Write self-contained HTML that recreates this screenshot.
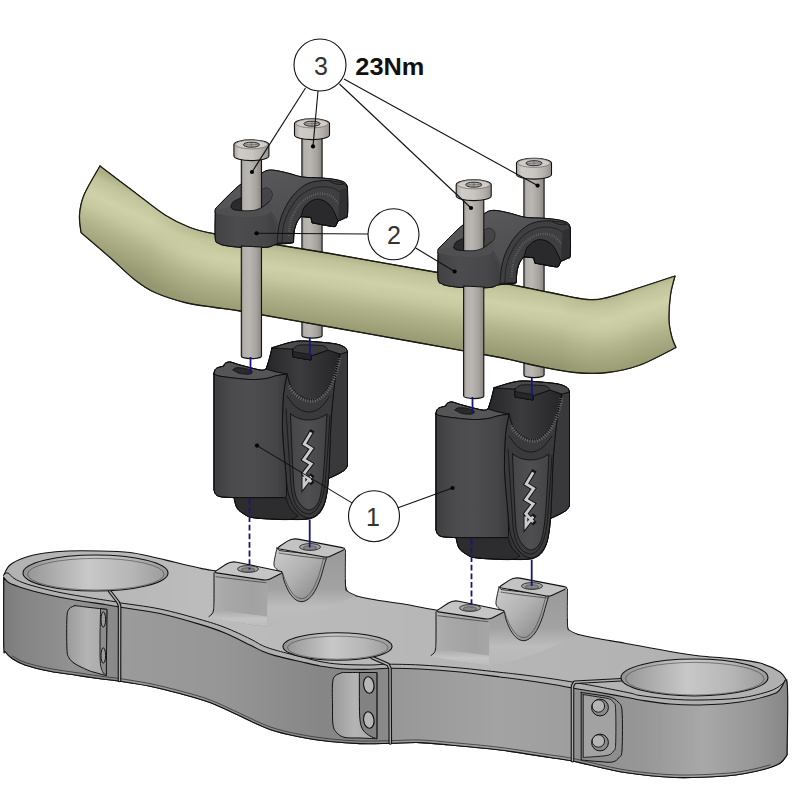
<!DOCTYPE html>
<html><head><meta charset="utf-8"><title>Riser kit assembly</title>
<style>html,body{margin:0;padding:0;background:#fff}svg{display:block}text{font-family:"Liberation Sans",sans-serif}</style>
</head><body>
<svg width="800" height="800" viewBox="0 0 800 800">
<defs>
<linearGradient id="gTop" x1="0" y1="0" x2="1" y2="0"><stop offset="0" stop-color="#b2b2b2"/><stop offset="0.25" stop-color="#bcbcbc"/><stop offset="0.6" stop-color="#b6b6b6"/><stop offset="1" stop-color="#b0b0b0"/></linearGradient>
<linearGradient id="gPedF" x1="0" y1="0" x2="1" y2="0"><stop offset="0" stop-color="#b2b2b2"/><stop offset="0.3" stop-color="#a8a8a8"/><stop offset="0.75" stop-color="#a2a2a2"/><stop offset="1" stop-color="#a6a6a6"/></linearGradient>
<linearGradient id="gPedFb" x1="0" y1="0" x2="0" y2="1"><stop offset="0" stop-color="#a4a4a4"/><stop offset="0.72" stop-color="#a4a4a4"/><stop offset="0.9" stop-color="#c2c2c2"/><stop offset="1" stop-color="#b8b8b8"/></linearGradient>
<linearGradient id="gFil" x1="0" y1="0" x2="0" y2="1"><stop offset="0" stop-color="#a6a6a6"/><stop offset="0.55" stop-color="#c4c4c4"/><stop offset="1" stop-color="#bababa"/></linearGradient>
<linearGradient id="gSad" x1="0" y1="0" x2="1" y2="1"><stop offset="0" stop-color="#cdcdcd"/><stop offset="0.45" stop-color="#b2b2b2"/><stop offset="1" stop-color="#808080"/></linearGradient>
<linearGradient id="gPedR" x1="0" y1="0" x2="0" y2="1"><stop offset="0" stop-color="#9a9a9a"/><stop offset="0.5" stop-color="#a2a2a2"/><stop offset="0.74" stop-color="#bcbcbc"/><stop offset="1" stop-color="#b8b8b8"/></linearGradient>
<linearGradient id="gSide" x1="0" y1="0" x2="800" y2="0" gradientUnits="userSpaceOnUse"><stop offset="0" stop-color="#7a7a7a"/><stop offset="0.03" stop-color="#858585"/><stop offset="0.09" stop-color="#929292"/><stop offset="0.148" stop-color="#898989"/><stop offset="0.152" stop-color="#9b9b9b"/><stop offset="0.28" stop-color="#969696"/><stop offset="0.4" stop-color="#868686"/><stop offset="0.485" stop-color="#8a8a8a"/><stop offset="0.49" stop-color="#979797"/><stop offset="0.62" stop-color="#a3a3a3"/><stop offset="0.715" stop-color="#9e9e9e"/><stop offset="0.72" stop-color="#909090"/><stop offset="0.8" stop-color="#969696"/><stop offset="0.88" stop-color="#a8a8a8"/><stop offset="0.95" stop-color="#959595"/><stop offset="1" stop-color="#808080"/></linearGradient>
<linearGradient id="gHole" x1="0" y1="0" x2="1" y2="0"><stop offset="0" stop-color="#929292"/><stop offset="0.12" stop-color="#a2a2a2"/><stop offset="0.45" stop-color="#c8c8c8"/><stop offset="0.75" stop-color="#b6b6b6"/><stop offset="1" stop-color="#9a9a9a"/></linearGradient>
<linearGradient id="gPock" x1="0" y1="0" x2="1" y2="0"><stop offset="0" stop-color="#9a9a9a"/><stop offset="0.5" stop-color="#b4b4b4"/><stop offset="1" stop-color="#a8a8a8"/></linearGradient>
<linearGradient id="gShaft" x1="0" y1="0" x2="1" y2="0"><stop offset="0" stop-color="#8a8682"/><stop offset="0.12" stop-color="#b4b0ac"/><stop offset="0.4" stop-color="#bab6b2"/><stop offset="0.75" stop-color="#a6a29e"/><stop offset="1" stop-color="#888480"/></linearGradient>
<linearGradient id="gHead" x1="0" y1="0" x2="1" y2="0"><stop offset="0" stop-color="#a9a5a1"/><stop offset="0.15" stop-color="#cfcbc7"/><stop offset="0.5" stop-color="#c9c5c1"/><stop offset="0.8" stop-color="#b3afab"/><stop offset="1" stop-color="#96928e"/></linearGradient>
<linearGradient id="gBar" x1="330" y1="253" x2="318" y2="328" gradientUnits="userSpaceOnUse"><stop offset="0" stop-color="#adaf87"/><stop offset="0.1" stop-color="#c1c39a"/><stop offset="0.3" stop-color="#cfd1a9"/><stop offset="0.45" stop-color="#c6c89f"/><stop offset="0.65" stop-color="#b1b38a"/><stop offset="0.85" stop-color="#a1a37b"/><stop offset="1" stop-color="#959770"/></linearGradient>
<linearGradient id="gBarL" x1="152" y1="196" x2="118" y2="268" gradientUnits="userSpaceOnUse"><stop offset="0" stop-color="#adaf87"/><stop offset="0.1" stop-color="#c1c39a"/><stop offset="0.3" stop-color="#cfd1a9"/><stop offset="0.45" stop-color="#c6c89f"/><stop offset="0.65" stop-color="#b1b38a"/><stop offset="0.85" stop-color="#a1a37b"/><stop offset="1" stop-color="#959770"/></linearGradient>
<linearGradient id="gBarR" x1="636" y1="286" x2="660" y2="362" gradientUnits="userSpaceOnUse"><stop offset="0" stop-color="#adaf87"/><stop offset="0.1" stop-color="#c1c39a"/><stop offset="0.3" stop-color="#cfd1a9"/><stop offset="0.45" stop-color="#c6c89f"/><stop offset="0.65" stop-color="#b1b38a"/><stop offset="0.85" stop-color="#a1a37b"/><stop offset="1" stop-color="#959770"/></linearGradient>
<linearGradient id="mL" x1="80" y1="0" x2="235" y2="0" gradientUnits="userSpaceOnUse"><stop offset="0" stop-color="#fff"/><stop offset="0.45" stop-color="#fff"/><stop offset="1" stop-color="#000"/></linearGradient>
<linearGradient id="mR" x1="560" y1="0" x2="680" y2="0" gradientUnits="userSpaceOnUse"><stop offset="0" stop-color="#000"/><stop offset="0.6" stop-color="#fff"/><stop offset="1" stop-color="#fff"/></linearGradient>
<mask id="maskL" maskUnits="userSpaceOnUse" x="0" y="0" width="800" height="800"><rect width="800" height="800" fill="url(#mL)"/></mask>
<mask id="maskR" maskUnits="userSpaceOnUse" x="0" y="0" width="800" height="800"><rect width="800" height="800" fill="url(#mR)"/></mask>
<linearGradient id="gClTop" x1="0" y1="0" x2="1" y2="1"><stop offset="0" stop-color="#5c5c5e"/><stop offset="0.5" stop-color="#525254"/><stop offset="1" stop-color="#48484a"/></linearGradient>
<linearGradient id="gClFront" x1="0" y1="0" x2="1" y2="0"><stop offset="0" stop-color="#424244"/><stop offset="0.35" stop-color="#4c4c4e"/><stop offset="0.8" stop-color="#474749"/><stop offset="1" stop-color="#3e3e40"/></linearGradient>
<linearGradient id="gRF" x1="0" y1="0" x2="1" y2="0"><stop offset="0" stop-color="#3e3e40"/><stop offset="0.25" stop-color="#4b4b4d"/><stop offset="0.5" stop-color="#4e4e50"/><stop offset="0.85" stop-color="#454547"/><stop offset="1" stop-color="#3a3a3c"/></linearGradient>
<linearGradient id="gRSad" x1="0" y1="0" x2="1" y2="0"><stop offset="0" stop-color="#262628"/><stop offset="0.45" stop-color="#3c3c3e"/><stop offset="1" stop-color="#252527"/></linearGradient>
<linearGradient id="gRTongue" x1="0" y1="0" x2="1" y2="0"><stop offset="0" stop-color="#464648"/><stop offset="0.5" stop-color="#4f4f51"/><stop offset="1" stop-color="#434345"/></linearGradient>
</defs>
<rect width="800" height="800" fill="#ffffff"/>
<path d="M3.8 575.0C4.8 573.3 6.5 567.9 10.0 565.0C13.5 562.1 19.2 559.5 25.0 557.5C30.8 555.5 37.9 554.1 45.0 553.0C52.1 551.9 58.3 551.3 67.5 551.0C76.7 550.7 89.6 550.8 100.0 551.0C110.4 551.2 121.2 551.5 130.0 552.5C138.8 553.5 145.0 555.4 152.5 557.0C160.0 558.6 167.5 560.5 175.0 562.2C182.5 564.0 191.2 566.1 197.5 567.5C203.8 568.9 199.2 568.4 213.0 570.5C226.8 572.6 268.8 578.4 280.0 580.0L345.5 580.0C345.5 581.0 345.2 584.1 345.5 586.0C345.8 587.9 346.2 590.0 347.5 591.5C348.8 593.0 348.4 593.6 353.0 595.0C357.6 596.4 366.3 598.2 375.0 599.8C383.7 601.3 394.8 602.5 405.0 604.2C415.2 606.0 420.2 607.5 436.0 610.0C451.8 612.5 489.3 617.5 500.0 619.0L567.3 619.0C567.3 620.2 567.0 624.1 567.3 626.0C567.6 627.9 568.0 629.3 569.0 630.5C570.0 631.7 568.7 631.8 573.0 633.0C577.3 634.2 586.3 636.3 595.0 638.0C603.7 639.7 612.5 641.0 625.0 643.2C637.5 645.5 657.5 649.4 670.0 651.5C682.5 653.6 690.0 654.8 700.0 656.0C710.0 657.2 720.0 657.3 730.0 658.5C740.0 659.7 751.7 660.8 760.0 663.0C768.3 665.2 775.5 669.0 780.0 672.0C784.5 675.0 785.8 679.5 787.0 681.0L787.0 755.0C786.0 756.2 783.8 760.4 781.0 762.5C778.2 764.6 775.2 765.8 770.0 767.5C764.8 769.2 757.5 771.1 750.0 772.5C742.5 773.9 737.5 775.2 725.0 776.0C712.5 776.8 691.7 778.1 675.0 777.5C658.3 776.9 642.1 775.2 625.0 772.5C607.9 769.8 585.0 763.5 572.5 761.0C560.0 758.5 562.1 759.3 550.0 757.5C537.9 755.7 516.7 752.1 500.0 750.0C483.3 747.9 463.3 746.2 450.0 745.0C436.7 743.8 430.0 742.9 420.0 742.6C410.0 742.3 400.0 743.1 390.0 743.3C380.0 743.5 370.0 743.9 360.0 743.6C350.0 743.3 340.0 742.6 330.0 741.5C320.0 740.4 310.0 739.0 300.0 737.0C290.0 735.0 280.0 733.0 270.0 729.5C260.0 726.0 250.0 720.5 240.0 716.0C230.0 711.5 220.0 706.2 210.0 702.5C200.0 698.8 190.0 696.2 180.0 693.5C170.0 690.8 160.0 688.3 150.0 686.2C140.0 684.2 128.3 682.5 120.0 681.2C111.7 680.0 107.5 679.8 100.0 678.8C92.5 677.7 83.3 676.2 75.0 675.0C66.7 673.8 58.3 672.9 50.0 671.2C41.7 669.6 31.2 667.1 25.0 665.0C18.8 662.9 15.8 660.9 12.5 658.8C9.2 656.6 7.0 654.1 5.5 652.0C4.0 649.9 4.0 647.0 3.8 646.0L3.8 575.0Z" fill="url(#gTop)" stroke="#111" stroke-width="1.1" stroke-linejoin="round" stroke-linecap="round" />
<path d="M327.0 556.0L345.5 550.0C345.5 556.0 345.1 579.1 345.5 586.0C345.9 592.9 346.2 589.9 348.0 591.5C349.8 593.1 354.7 594.8 356.0 595.5C351.7 597.6 339.3 604.1 330.0 608.0C320.7 611.9 310.5 615.8 300.0 619.0C289.5 622.2 272.5 625.7 267.0 627.0L267.0 579.0L282.0 573.0L327.0 556.0Z" fill="url(#gPedR)" stroke="none" stroke-width="1.1" stroke-linejoin="round" stroke-linecap="round" />
<path d="M277.0 548.0C276.7 549.5 275.5 554.2 275.0 557.0C274.5 559.8 273.7 562.9 274.0 565.0C274.3 567.1 275.6 568.2 277.0 569.5C278.4 570.8 281.6 572.4 282.5 573.0C282.8 574.5 283.2 578.6 284.5 582.0C285.8 585.4 287.9 590.4 290.0 593.5C292.1 596.6 294.5 599.2 297.0 600.5C299.5 601.8 302.3 602.1 305.0 601.0C307.7 599.9 310.6 597.3 313.0 594.0C315.4 590.7 317.7 585.7 319.5 581.0C321.3 576.3 322.8 570.2 324.0 566.0C325.2 561.8 326.5 557.7 327.0 556.0L279.0 550.5L277.0 548.0Z" fill="url(#gSad)" stroke="#111" stroke-width="0.9" stroke-linejoin="round" stroke-linecap="round" />
<path d="M283.0 574.0C283.5 575.3 284.6 579.0 286.0 582.0C287.4 585.0 289.6 589.4 291.5 592.0C293.4 594.6 295.3 596.5 297.5 597.5C299.7 598.5 302.2 599.0 304.5 598.0C306.8 597.0 309.3 594.7 311.5 591.5C313.7 588.3 315.8 583.2 317.5 579.0C319.2 574.8 320.4 569.8 321.5 566.0C322.6 562.2 323.6 558.1 324.0 556.5" fill="none" stroke="#3a3a3a" stroke-width="0.6" stroke-linejoin="round" stroke-linecap="round" />
<path d="M345.5 550.0C345.5 556.0 345.1 579.1 345.5 586.0C345.9 592.9 346.2 589.9 348.0 591.5C349.8 593.1 354.7 594.8 356.0 595.5" fill="none" stroke="#111" stroke-width="0.9" stroke-linejoin="round" stroke-linecap="round" />
<path d="M279.5 549.0Q276.5 548.5 279.0 546.8L287.0 541.4Q292.0 538.0 297.9 539.1L342.1 547.6Q347.0 548.5 342.5 550.6L330.2 556.2Q327.5 557.5 324.5 557.0Z" fill="#c3c3c3" stroke="#111" stroke-width="1.1" stroke-linejoin="round" stroke-linecap="round" />
<path d="M279.0 551.5C282.5 552.0 292.2 553.5 300.0 554.5C307.8 555.5 321.7 557.0 326.0 557.5" fill="none" stroke="#333" stroke-width="0.7" stroke-linejoin="round" stroke-linecap="round" transform="translate(0,1.6)"/>
<ellipse cx="310" cy="547" rx="10.5" ry="3.4" fill="#a2a2a2" stroke="#1a1a1a" stroke-width="0.8"/>
<ellipse cx="310" cy="547.8" rx="6.8" ry="2.1" fill="#858585" stroke="#333" stroke-width="0.5"/>
<path d="M214.0 573.0C214.0 577.5 214.1 593.7 214.0 600.0C213.9 606.3 214.0 608.4 213.5 611.0C213.0 613.6 211.9 614.5 211.0 615.5C210.1 616.5 208.5 616.8 208.0 617.0C213.3 618.0 230.2 621.3 240.0 623.0C249.8 624.7 262.5 626.3 267.0 627.0L267.5 579.0C262.9 578.7 248.2 577.8 240.0 577.0C231.8 576.2 222.3 575.2 218.0 574.5C213.7 573.8 214.7 573.2 214.0 573.0Z" fill="url(#gPedF)" stroke="none" stroke-width="1.1" stroke-linejoin="round" stroke-linecap="round" />
<path d="M213.5 609.0C217.9 609.7 231.1 611.8 240.0 613.0C248.9 614.2 262.5 615.9 267.0 616.5L267.0 627.0C262.5 626.3 249.8 624.6 240.0 623.0C230.2 621.4 213.3 618.2 208.0 617.3L213.5 609.0Z" fill="url(#gFil)" stroke="none" stroke-width="1.1" stroke-linejoin="round" stroke-linecap="round" />
<path d="M214.0 573.0C214.0 577.5 214.1 593.8 214.0 600.0C213.9 606.2 213.8 607.7 213.5 610.0C213.2 612.3 212.8 612.9 212.0 614.0C211.2 615.1 209.5 616.1 209.0 616.5" fill="none" stroke="#111" stroke-width="1.0" stroke-linejoin="round" stroke-linecap="round" />
<path d="M216.5 572.9Q213.5 572.5 216.0 570.9L226.0 564.3Q231.0 561.0 236.9 562.2L280.1 571.2Q284.0 572.0 280.4 573.8L270.6 578.7Q267.0 580.5 263.0 579.9Z" fill="#c5c5c5" stroke="#111" stroke-width="1.1" stroke-linejoin="round" stroke-linecap="round" />
<path d="M216.0 575.5C220.0 576.0 231.7 577.5 240.0 578.5C248.3 579.5 261.7 581.0 266.0 581.5" fill="none" stroke="#333" stroke-width="0.7" stroke-linejoin="round" stroke-linecap="round" transform="translate(0,1.2)"/>
<ellipse cx="248" cy="569" rx="10.5" ry="3.4" fill="#a2a2a2" stroke="#1a1a1a" stroke-width="0.8"/>
<ellipse cx="248" cy="569.8" rx="6.8" ry="2.1" fill="#858585" stroke="#333" stroke-width="0.5"/>
<path d="M549.0 595.0L567.5 589.0C567.5 595.0 567.1 618.1 567.5 625.0C567.9 631.9 568.2 628.9 570.0 630.5C571.8 632.1 576.7 633.8 578.0 634.5C573.7 636.6 561.3 643.1 552.0 647.0C542.7 650.9 532.5 654.8 522.0 658.0C511.5 661.2 494.5 664.7 489.0 666.0L489.0 618.0L504.0 612.0L549.0 595.0Z" fill="url(#gPedR)" stroke="none" stroke-width="1.1" stroke-linejoin="round" stroke-linecap="round" />
<path d="M499.0 587.0C498.7 588.5 497.5 593.2 497.0 596.0C496.5 598.8 495.7 601.9 496.0 604.0C496.3 606.1 497.6 607.2 499.0 608.5C500.4 609.8 503.6 611.4 504.5 612.0C504.8 613.5 505.2 617.6 506.5 621.0C507.8 624.4 509.9 629.4 512.0 632.5C514.1 635.6 516.5 638.2 519.0 639.5C521.5 640.8 524.3 641.1 527.0 640.0C529.7 638.9 532.6 636.3 535.0 633.0C537.4 629.7 539.7 624.7 541.5 620.0C543.3 615.3 544.8 609.2 546.0 605.0C547.2 600.8 548.5 596.7 549.0 595.0L501.0 589.5L499.0 587.0Z" fill="url(#gSad)" stroke="#111" stroke-width="0.9" stroke-linejoin="round" stroke-linecap="round" />
<path d="M505.0 613.0C505.5 614.3 506.6 618.0 508.0 621.0C509.4 624.0 511.6 628.4 513.5 631.0C515.4 633.6 517.3 635.5 519.5 636.5C521.7 637.5 524.2 638.0 526.5 637.0C528.8 636.0 531.3 633.7 533.5 630.5C535.7 627.3 537.8 622.2 539.5 618.0C541.2 613.8 542.4 608.8 543.5 605.0C544.6 601.2 545.6 597.1 546.0 595.5" fill="none" stroke="#3a3a3a" stroke-width="0.6" stroke-linejoin="round" stroke-linecap="round" />
<path d="M567.5 589.0C567.5 595.0 567.1 618.1 567.5 625.0C567.9 631.9 568.2 628.9 570.0 630.5C571.8 632.1 576.7 633.8 578.0 634.5" fill="none" stroke="#111" stroke-width="0.9" stroke-linejoin="round" stroke-linecap="round" />
<path d="M501.5 588.0Q498.5 587.5 501.0 585.8L509.0 580.4Q514.0 577.0 519.9 578.1L564.1 586.6Q569.0 587.5 564.5 589.6L552.2 595.2Q549.5 596.5 546.5 596.0Z" fill="#c3c3c3" stroke="#111" stroke-width="1.1" stroke-linejoin="round" stroke-linecap="round" />
<path d="M501.0 590.5C504.5 591.0 514.2 592.5 522.0 593.5C529.8 594.5 543.7 596.0 548.0 596.5" fill="none" stroke="#333" stroke-width="0.7" stroke-linejoin="round" stroke-linecap="round" transform="translate(0,1.6)"/>
<ellipse cx="532" cy="586" rx="10.5" ry="3.4" fill="#a2a2a2" stroke="#1a1a1a" stroke-width="0.8"/>
<ellipse cx="532" cy="586.8" rx="6.8" ry="2.1" fill="#858585" stroke="#333" stroke-width="0.5"/>
<path d="M436.0 612.0C436.0 616.5 436.1 632.7 436.0 639.0C435.9 645.3 436.0 647.4 435.5 650.0C435.0 652.6 433.9 653.5 433.0 654.5C432.1 655.5 430.5 655.8 430.0 656.0C435.3 657.0 452.2 660.3 462.0 662.0C471.8 663.7 484.5 665.3 489.0 666.0L489.5 618.0C484.9 617.7 470.2 616.8 462.0 616.0C453.8 615.2 444.3 614.2 440.0 613.5C435.7 612.8 436.7 612.2 436.0 612.0Z" fill="url(#gPedF)" stroke="none" stroke-width="1.1" stroke-linejoin="round" stroke-linecap="round" />
<path d="M435.5 648.0C439.9 648.7 453.1 650.8 462.0 652.0C470.9 653.2 484.5 654.9 489.0 655.5L489.0 666.0C484.5 665.3 471.8 663.6 462.0 662.0C452.2 660.4 435.3 657.2 430.0 656.3L435.5 648.0Z" fill="url(#gFil)" stroke="none" stroke-width="1.1" stroke-linejoin="round" stroke-linecap="round" />
<path d="M436.0 612.0C436.0 616.5 436.1 632.8 436.0 639.0C435.9 645.2 435.8 646.7 435.5 649.0C435.2 651.3 434.8 651.9 434.0 653.0C433.2 654.1 431.5 655.1 431.0 655.5" fill="none" stroke="#111" stroke-width="1.0" stroke-linejoin="round" stroke-linecap="round" />
<path d="M438.5 611.9Q435.5 611.5 438.0 609.9L448.0 603.3Q453.0 600.0 458.9 601.2L502.1 610.2Q506.0 611.0 502.4 612.8L492.6 617.7Q489.0 619.5 485.0 618.9Z" fill="#c5c5c5" stroke="#111" stroke-width="1.1" stroke-linejoin="round" stroke-linecap="round" />
<path d="M438.0 614.5C442.0 615.0 453.7 616.5 462.0 617.5C470.3 618.5 483.7 620.0 488.0 620.5" fill="none" stroke="#333" stroke-width="0.7" stroke-linejoin="round" stroke-linecap="round" transform="translate(0,1.2)"/>
<ellipse cx="470" cy="608" rx="10.5" ry="3.4" fill="#a2a2a2" stroke="#1a1a1a" stroke-width="0.8"/>
<ellipse cx="470" cy="608.8" rx="6.8" ry="2.1" fill="#858585" stroke="#333" stroke-width="0.5"/>
<path d="M3.8 575.0C4.5 574.7 6.1 572.3 8.0 573.0C9.9 573.7 11.3 577.0 15.0 579.0C18.7 581.0 22.5 582.8 30.0 585.0C37.5 587.2 50.0 590.4 60.0 592.5C70.0 594.6 81.0 596.2 90.0 597.8C99.0 599.2 109.3 600.8 114.0 601.5C118.7 602.2 116.8 602.0 118.0 602.2C119.2 602.5 114.0 601.9 121.0 603.0C128.0 604.1 146.8 606.3 160.0 609.0C173.2 611.7 189.2 616.3 200.0 619.4C210.8 622.5 216.7 624.3 225.0 627.5C233.3 630.7 243.8 635.7 250.0 638.8C256.2 641.8 258.3 643.7 262.5 645.6C266.7 647.5 268.8 648.2 275.0 650.0C281.2 651.8 292.5 654.6 300.0 656.5C307.5 658.4 313.3 660.2 320.0 661.5C326.7 662.8 331.7 663.6 340.0 664.2C348.3 664.8 362.0 665.0 370.0 665.0C378.0 665.0 379.7 664.2 388.0 664.2C396.3 664.2 408.0 664.4 420.0 665.0C432.0 665.6 446.7 666.8 460.0 668.0C473.3 669.2 490.0 671.2 500.0 672.3C510.0 673.4 511.7 673.5 520.0 674.5C528.3 675.5 541.0 677.2 550.0 678.5C559.0 679.8 569.3 681.5 574.0 682.3C578.7 683.0 573.7 682.2 578.0 683.0C582.3 683.8 591.3 685.3 600.0 687.0C608.7 688.7 623.3 691.6 630.0 693.0C636.7 694.4 633.3 694.5 640.0 695.5C646.7 696.5 660.0 698.2 670.0 699.0C680.0 699.8 688.3 700.2 700.0 700.0C711.7 699.8 728.3 699.5 740.0 698.0C751.7 696.5 762.8 693.4 770.0 691.0C777.2 688.6 780.2 685.3 783.0 683.5C785.8 681.7 786.3 680.1 787.0 680.0C787.7 679.9 788.8 680.8 787.0 683.0C785.2 685.2 783.8 689.8 776.0 693.0C768.2 696.2 752.7 700.0 740.0 702.0C727.3 704.0 711.7 704.7 700.0 705.0C688.3 705.3 680.0 704.8 670.0 704.0C660.0 703.2 646.7 701.0 640.0 700.0C633.3 699.0 636.7 699.2 630.0 698.0C623.3 696.8 608.7 694.0 600.0 692.5C591.3 691.0 582.7 689.8 578.0 689.0C573.3 688.2 576.7 688.8 572.0 688.0C567.3 687.2 558.7 685.4 550.0 684.0C541.3 682.6 528.3 680.7 520.0 679.5C511.7 678.3 510.0 678.2 500.0 677.0C490.0 675.8 473.3 673.3 460.0 672.0C446.7 670.7 432.0 669.6 420.0 669.0C408.0 668.4 396.3 668.2 388.0 668.3C379.7 668.3 378.0 669.2 370.0 669.3C362.0 669.4 348.3 669.2 340.0 668.7C331.7 668.2 326.7 667.2 320.0 666.0C313.3 664.8 307.5 663.2 300.0 661.5C292.5 659.8 281.2 657.3 275.0 655.6C268.8 653.9 266.7 653.0 262.5 651.2C258.3 649.5 256.2 648.0 250.0 645.0C243.8 642.0 233.3 636.4 225.0 633.0C216.7 629.6 210.8 627.6 200.0 624.4C189.2 621.1 173.2 616.4 160.0 613.5C146.8 610.6 127.9 608.4 121.0 607.3C114.1 606.2 121.4 607.5 118.8 607.0C116.1 606.5 112.3 605.7 105.0 604.5C97.7 603.3 85.0 601.8 75.0 600.0C65.0 598.2 53.8 596.0 45.0 594.0C36.2 592.0 28.5 589.9 22.5 588.0C16.5 586.1 12.1 584.5 9.0 582.8C5.9 581.0 4.6 578.8 3.8 577.5C2.9 576.2 3.8 575.4 3.8 575.0Z" fill="#b0b0b0" stroke="none" stroke-width="1.1" stroke-linejoin="round" stroke-linecap="round" />
<path d="M3.8 575.0C4.5 574.7 6.1 572.3 8.0 573.0C9.9 573.7 11.3 577.0 15.0 579.0C18.7 581.0 22.5 582.8 30.0 585.0C37.5 587.2 50.0 590.4 60.0 592.5C70.0 594.6 81.0 596.2 90.0 597.8C99.0 599.2 109.3 600.8 114.0 601.5C118.7 602.2 116.8 602.0 118.0 602.2C119.2 602.5 114.0 601.9 121.0 603.0C128.0 604.1 146.8 606.3 160.0 609.0C173.2 611.7 189.2 616.3 200.0 619.4C210.8 622.5 216.7 624.3 225.0 627.5C233.3 630.7 243.8 635.7 250.0 638.8C256.2 641.8 258.3 643.7 262.5 645.6C266.7 647.5 268.8 648.2 275.0 650.0C281.2 651.8 292.5 654.6 300.0 656.5C307.5 658.4 313.3 660.2 320.0 661.5C326.7 662.8 331.7 663.6 340.0 664.2C348.3 664.8 362.0 665.0 370.0 665.0C378.0 665.0 379.7 664.2 388.0 664.2C396.3 664.2 408.0 664.4 420.0 665.0C432.0 665.6 446.7 666.8 460.0 668.0C473.3 669.2 490.0 671.2 500.0 672.3C510.0 673.4 511.7 673.5 520.0 674.5C528.3 675.5 541.0 677.2 550.0 678.5C559.0 679.8 569.3 681.5 574.0 682.3C578.7 683.0 573.7 682.2 578.0 683.0C582.3 683.8 591.3 685.3 600.0 687.0C608.7 688.7 623.3 691.6 630.0 693.0C636.7 694.4 633.3 694.5 640.0 695.5C646.7 696.5 660.0 698.2 670.0 699.0C680.0 699.8 688.3 700.2 700.0 700.0C711.7 699.8 728.3 699.5 740.0 698.0C751.7 696.5 762.8 693.4 770.0 691.0C777.2 688.6 780.2 685.3 783.0 683.5C785.8 681.7 786.3 680.6 787.0 680.0" fill="none" stroke="#111" stroke-width="1.0" stroke-linejoin="round" stroke-linecap="round" />
<path d="M3.8 577.5C4.6 578.4 5.9 581.0 9.0 582.8C12.1 584.5 16.5 586.1 22.5 588.0C28.5 589.9 36.2 592.0 45.0 594.0C53.8 596.0 65.0 598.2 75.0 600.0C85.0 601.8 97.7 603.3 105.0 604.5C112.3 605.7 116.1 606.5 118.8 607.0C121.4 607.5 114.1 606.2 121.0 607.3C127.9 608.4 146.8 610.6 160.0 613.5C173.2 616.4 189.2 621.1 200.0 624.4C210.8 627.6 216.7 629.6 225.0 633.0C233.3 636.4 243.8 642.0 250.0 645.0C256.2 648.0 258.3 649.5 262.5 651.2C266.7 653.0 268.8 653.9 275.0 655.6C281.2 657.3 292.5 659.8 300.0 661.5C307.5 663.2 313.3 664.8 320.0 666.0C326.7 667.2 331.7 668.2 340.0 668.7C348.3 669.2 362.0 669.4 370.0 669.3C378.0 669.2 379.7 668.3 388.0 668.3C396.3 668.2 408.0 668.4 420.0 669.0C432.0 669.6 446.7 670.7 460.0 672.0C473.3 673.3 490.0 675.8 500.0 677.0C510.0 678.2 511.7 678.3 520.0 679.5C528.3 680.7 541.3 682.6 550.0 684.0C558.7 685.4 567.3 687.2 572.0 688.0C576.7 688.8 573.3 688.2 578.0 689.0C582.7 689.8 591.3 691.0 600.0 692.5C608.7 694.0 623.3 696.8 630.0 698.0C636.7 699.2 633.3 699.0 640.0 700.0C646.7 701.0 660.0 703.2 670.0 704.0C680.0 704.8 688.3 705.3 700.0 705.0C711.7 704.7 727.3 704.0 740.0 702.0C752.7 700.0 768.2 696.2 776.0 693.0C783.8 689.8 785.2 672.7 787.0 683.0C788.8 693.3 787.0 743.0 787.0 755.0C786.0 756.2 783.8 760.4 781.0 762.5C778.2 764.6 775.2 765.8 770.0 767.5C764.8 769.2 757.5 771.1 750.0 772.5C742.5 773.9 737.5 775.2 725.0 776.0C712.5 776.8 691.7 778.1 675.0 777.5C658.3 776.9 642.1 775.2 625.0 772.5C607.9 769.8 585.0 763.5 572.5 761.0C560.0 758.5 562.1 759.3 550.0 757.5C537.9 755.7 516.7 752.1 500.0 750.0C483.3 747.9 463.3 746.2 450.0 745.0C436.7 743.8 430.0 742.9 420.0 742.6C410.0 742.3 400.0 743.1 390.0 743.3C380.0 743.5 370.0 743.9 360.0 743.6C350.0 743.3 340.0 742.6 330.0 741.5C320.0 740.4 310.0 739.0 300.0 737.0C290.0 735.0 280.0 733.0 270.0 729.5C260.0 726.0 250.0 720.5 240.0 716.0C230.0 711.5 220.0 706.2 210.0 702.5C200.0 698.8 190.0 696.2 180.0 693.5C170.0 690.8 160.0 688.3 150.0 686.2C140.0 684.2 128.3 682.5 120.0 681.2C111.7 680.0 107.5 679.8 100.0 678.8C92.5 677.7 83.3 676.2 75.0 675.0C66.7 673.8 58.3 672.9 50.0 671.2C41.7 669.6 31.2 667.1 25.0 665.0C18.8 662.9 15.8 660.9 12.5 658.8C9.2 656.6 7.0 654.1 5.5 652.0C4.0 649.9 4.0 658.4 3.8 646.0C3.5 633.6 3.8 588.9 3.8 577.5Z" fill="url(#gSide)" stroke="#111" stroke-width="1.1" stroke-linejoin="round" stroke-linecap="round" />
<path d="M12.5 656.1C14.6 657.2 18.8 660.3 25.0 662.4C31.2 664.5 41.7 667.0 50.0 668.6C58.3 670.3 66.7 671.1 75.0 672.4C83.3 673.6 92.5 675.1 100.0 676.1C107.5 677.2 111.7 677.4 120.0 678.6C128.3 679.9 140.0 681.6 150.0 683.6C160.0 685.7 170.0 688.2 180.0 690.9C190.0 693.6 200.0 696.1 210.0 699.9C220.0 703.6 230.0 708.9 240.0 713.4C250.0 717.9 260.0 723.4 270.0 726.9C280.0 730.4 290.0 732.4 300.0 734.4C310.0 736.4 320.0 737.8 330.0 738.9C340.0 740.0 350.0 740.7 360.0 741.0C370.0 741.3 380.0 740.9 390.0 740.7C400.0 740.5 410.0 739.7 420.0 740.0C430.0 740.3 436.7 741.2 450.0 742.4C463.3 743.6 483.3 745.3 500.0 747.4C516.7 749.5 537.9 753.1 550.0 754.9C562.1 756.7 560.0 755.9 572.5 758.4C585.0 760.9 607.9 767.1 625.0 769.9C642.1 772.6 658.3 774.3 675.0 774.9C691.7 775.5 712.5 774.2 725.0 773.4C737.5 772.6 742.5 771.3 750.0 769.9C757.5 768.5 766.7 765.7 770.0 764.9" fill="none" stroke="#333" stroke-width="0.8" stroke-linejoin="round" stroke-linecap="round" />
<path d="M109.5 591 L118 602 L119.6 606 L119.5 680.5" fill="none" stroke="#111" stroke-width="3.6" stroke-linejoin="round" stroke-linecap="round" />
<path d="M109.5 591 L118 602 L119.6 606 L119.5 680.5" fill="none" stroke="#ababab" stroke-width="1.4" stroke-linejoin="round" stroke-linecap="round" />
<path d="M372 657.5 L388 664.5 L390 668.5 L390.3 743" fill="none" stroke="#111" stroke-width="3.6" stroke-linejoin="round" stroke-linecap="round" />
<path d="M372 657.5 L388 664.5 L390 668.5 L390.3 743" fill="none" stroke="#ababab" stroke-width="1.4" stroke-linejoin="round" stroke-linecap="round" />
<path d="M621.5 679.8 L574.5 682.3 L572.5 686 L572.5 760.8" fill="none" stroke="#111" stroke-width="3.6" stroke-linejoin="round" stroke-linecap="round" />
<path d="M621.5 679.8 L574.5 682.3 L572.5 686 L572.5 760.8" fill="none" stroke="#ababab" stroke-width="1.4" stroke-linejoin="round" stroke-linecap="round" />
<ellipse cx="95.5" cy="573" rx="72.5" ry="18" fill="url(#gHole)" stroke="#111" stroke-width="1.1"/>
<ellipse cx="95.8" cy="574.2" rx="68.3" ry="15.8" fill="none" stroke="#444" stroke-width="0.6"/>
<ellipse cx="337.5" cy="646.5" rx="54.5" ry="13.7" fill="url(#gHole)" stroke="#111" stroke-width="1.1"/>
<ellipse cx="337.8" cy="647.7" rx="50.3" ry="11.5" fill="none" stroke="#444" stroke-width="0.6"/>
<ellipse cx="694.5" cy="677.5" rx="73.5" ry="18.5" fill="url(#gHole)" stroke="#111" stroke-width="1.1"/>
<ellipse cx="694.8" cy="678.7" rx="69.3" ry="16.3" fill="none" stroke="#444" stroke-width="0.6"/>
<path d="M75.0 605.6C77.5 605.9 84.7 606.9 90.0 607.5C95.3 608.1 104.1 609.1 106.9 609.4L106.3 675.6C104.4 675.1 98.1 673.4 95.0 672.5C91.9 671.6 90.8 671.5 87.5 670.0C84.2 668.5 78.1 665.8 75.0 663.8C71.9 661.7 70.1 660.1 68.8 657.5C67.4 654.9 67.2 654.6 66.9 648.0C66.6 641.4 66.6 624.5 66.9 618.0C67.2 611.5 67.7 611.1 69.0 609.0C70.3 606.9 74.0 606.2 75.0 605.6Z" fill="url(#gPock)" stroke="#111" stroke-width="1.0" stroke-linejoin="round" stroke-linecap="round" />
<path d="M100.6 608.7L106.9 609.4L106.3 675.6C105.7 674.9 103.5 673.8 102.5 671.5C101.5 669.2 100.7 667.2 100.3 662.0C99.9 656.8 100.0 648.9 100.0 640.0C100.0 631.1 100.5 613.9 100.6 608.7Z" fill="#8c8c8c" stroke="#111" stroke-width="0.9" stroke-linejoin="round" stroke-linecap="round" />
<ellipse cx="103.3" cy="619.5" rx="2.3" ry="7.6" fill="#9c9c9c" stroke="#111" stroke-width="1"/>
<ellipse cx="103.3" cy="655.5" rx="2.3" ry="7.6" fill="#9c9c9c" stroke="#111" stroke-width="1"/>
<path d="M342.5 672.5C345.4 672.5 354.3 672.5 360.0 672.5C365.7 672.5 374.1 672.5 376.9 672.5L376.9 738.8C374.1 738.7 365.3 738.2 360.0 738.0C354.7 737.8 348.8 738.3 345.0 737.5C341.2 736.7 339.0 735.1 337.0 733.0C335.0 730.9 333.8 729.7 333.0 725.0C332.2 720.3 332.6 711.8 332.5 705.0C332.4 698.2 332.1 688.8 332.5 684.0C332.9 679.2 333.3 677.9 335.0 676.0C336.7 674.1 341.2 673.1 342.5 672.5Z" fill="url(#gPock)" stroke="#111" stroke-width="1.0" stroke-linejoin="round" stroke-linecap="round" />
<path d="M359.4 672.5L376.9 672.5L376.9 738.8C375.8 738.3 372.3 737.5 370.0 736.0C367.7 734.5 364.7 732.7 363.0 730.0C361.3 727.3 360.6 725.0 360.0 720.0C359.4 715.0 359.5 707.9 359.4 700.0C359.3 692.1 359.4 677.1 359.4 672.5Z" fill="#828282" stroke="#111" stroke-width="1.0" stroke-linejoin="round" stroke-linecap="round" />
<ellipse cx="368.8" cy="685" rx="5.2" ry="8.3" fill="#b6b6b6" stroke="#111" stroke-width="1.2" transform="rotate(-8 368.8 685)"/>
<ellipse cx="368.8" cy="720" rx="5.2" ry="8.3" fill="#b6b6b6" stroke="#111" stroke-width="1.2" transform="rotate(-8 368.8 720)"/>
<path d="M581.2 692.5C583.5 692.8 590.2 693.8 595.0 694.5C599.8 695.2 606.2 695.8 610.0 697.0C613.8 698.2 616.0 699.7 618.0 702.0C620.0 704.3 621.3 703.0 622.0 711.0C622.7 719.0 622.5 742.2 622.0 750.0C621.5 757.8 620.6 755.5 619.0 757.5C617.4 759.5 616.0 761.3 612.5 762.0C609.0 762.7 603.2 761.8 598.0 761.5C592.8 761.2 584.0 760.2 581.2 760.0L581.2 692.5Z" fill="#8e8e8e" stroke="#111" stroke-width="1.0" stroke-linejoin="round" stroke-linecap="round" />
<path d="M583.2 694.6C585.3 694.9 591.7 695.9 596.0 696.6C600.3 697.3 605.8 697.8 608.8 698.8C611.7 699.7 612.4 700.8 613.5 702.5C614.6 704.2 615.2 701.7 615.6 708.8C616.0 715.8 616.0 738.0 615.6 745.0C615.2 752.0 614.6 749.3 613.5 751.0C612.4 752.7 611.5 754.1 608.8 755.0C606.0 755.9 601.3 756.1 597.0 756.5C592.7 756.9 585.5 757.3 583.2 757.5L583.2 694.6Z" fill="#a2a2a2" stroke="#111" stroke-width="0.9" stroke-linejoin="round" stroke-linecap="round" />
<circle cx="600" cy="707.5" r="8.4" fill="#8a8a8a" stroke="#111" stroke-width="1"/>
<circle cx="598.4" cy="706.0" r="6.2" fill="#b4b4b4" stroke="#111" stroke-width="0.9"/>
<circle cx="600" cy="742.5" r="8.4" fill="#8a8a8a" stroke="#111" stroke-width="1"/>
<circle cx="598.4" cy="741.0" r="6.2" fill="#b4b4b4" stroke="#111" stroke-width="0.9"/>
<path d="M301.9 135.0 L301.9 335.5 A10.1 2.6 0 0 0 322.1 335.5 L322.1 135.0 Z" fill="url(#gShaft)" stroke="#111" stroke-width="1.1" stroke-linejoin="round" stroke-linecap="round" />
<path d="M294.5 123.5 L294.5 135.0 A17.5 4.6 0 0 0 329.5 135.0 L329.5 123.5 A17.5 4.6 0 0 0 294.5 123.5 Z" fill="url(#gHead)" stroke="#111" stroke-width="1.1" stroke-linejoin="round" stroke-linecap="round" />
<ellipse cx="312.0" cy="123.5" rx="16.3" ry="4.4" fill="#d0ccc9" stroke="#6a6662" stroke-width="0.7"/>
<ellipse cx="312.0" cy="123.7" rx="8" ry="2.5" fill="#b0aca8" stroke="#1a1a1a" stroke-width="0.9"/>
<path d="M305.0 123.9 L319.0 123.5 M312.0 121.5 L312.0 125.8" fill="none" stroke="#444" stroke-width="0.5" stroke-linejoin="round" stroke-linecap="round" />
<path d="M523.9 174.5 L523.9 375.0 A10.1 2.6 0 0 0 544.1 375.0 L544.1 174.5 Z" fill="url(#gShaft)" stroke="#111" stroke-width="1.1" stroke-linejoin="round" stroke-linecap="round" />
<path d="M516.5 163.0 L516.5 174.5 A17.5 4.6 0 0 0 551.5 174.5 L551.5 163.0 A17.5 4.6 0 0 0 516.5 163.0 Z" fill="url(#gHead)" stroke="#111" stroke-width="1.1" stroke-linejoin="round" stroke-linecap="round" />
<ellipse cx="534.0" cy="163.0" rx="16.3" ry="4.4" fill="#d0ccc9" stroke="#6a6662" stroke-width="0.7"/>
<ellipse cx="534.0" cy="163.2" rx="8" ry="2.5" fill="#b0aca8" stroke="#1a1a1a" stroke-width="0.9"/>
<path d="M527.0 163.4 L541.0 163.0 M534.0 161.0 L534.0 165.3" fill="none" stroke="#444" stroke-width="0.5" stroke-linejoin="round" stroke-linecap="round" />
<path d="M100.0 166.0C105.8 170.4 124.2 184.3 135.0 192.5C145.8 200.7 155.8 209.2 165.0 215.0C174.2 220.8 181.7 224.3 190.0 227.5C198.3 230.7 203.3 231.6 215.0 234.0C226.7 236.4 240.8 238.8 260.0 242.0C279.2 245.2 300.8 248.5 330.0 253.5C359.2 258.5 406.7 267.2 435.0 272.0C463.3 276.8 480.8 279.1 500.0 282.5C519.2 285.9 535.4 289.7 550.0 292.5C564.6 295.3 577.9 298.7 587.5 299.5C597.1 300.3 598.8 299.5 607.5 297.5C616.2 295.5 628.8 291.1 640.0 287.5C651.2 283.9 669.2 277.9 675.0 276.0C674.2 279.2 671.5 287.7 670.5 295.0C669.5 302.3 668.8 312.9 669.0 320.0C669.2 327.1 670.8 332.9 672.0 337.5C673.2 342.1 675.3 345.8 676.0 347.5C670.0 350.4 651.4 360.8 640.0 365.0C628.6 369.2 618.3 371.2 607.5 372.5C596.7 373.8 586.7 373.6 575.0 372.5C563.3 371.4 550.0 368.5 537.5 366.0C525.0 363.5 519.6 361.3 500.0 357.5C480.4 353.7 448.3 348.1 420.0 343.0C391.7 337.9 360.0 332.3 330.0 327.0C300.0 321.7 259.2 314.2 240.0 311.0C220.8 307.8 224.2 308.9 215.0 307.5C205.8 306.1 195.0 305.0 185.0 302.5C175.0 300.0 163.3 296.2 155.0 292.5C146.7 288.8 142.5 285.8 135.0 280.0C127.5 274.2 119.0 265.4 110.0 257.5C101.0 249.6 85.8 236.7 81.0 232.5C80.8 229.6 79.0 221.2 79.5 215.0C80.0 208.8 80.6 203.2 84.0 195.0C87.4 186.8 97.3 170.8 100.0 166.0Z" fill="url(#gBar)" stroke="#1c1c14" stroke-width="1.0" stroke-linejoin="round" stroke-linecap="round" />
<path d="M100.0 166.0C105.8 170.4 124.2 184.3 135.0 192.5C145.8 200.7 155.8 209.2 165.0 215.0C174.2 220.8 181.7 224.3 190.0 227.5C198.3 230.7 203.3 231.6 215.0 234.0C226.7 236.4 240.8 238.8 260.0 242.0C279.2 245.2 300.8 248.5 330.0 253.5C359.2 258.5 406.7 267.2 435.0 272.0C463.3 276.8 480.8 279.1 500.0 282.5C519.2 285.9 535.4 289.7 550.0 292.5C564.6 295.3 577.9 298.7 587.5 299.5C597.1 300.3 598.8 299.5 607.5 297.5C616.2 295.5 628.8 291.1 640.0 287.5C651.2 283.9 669.2 277.9 675.0 276.0C674.2 279.2 671.5 287.7 670.5 295.0C669.5 302.3 668.8 312.9 669.0 320.0C669.2 327.1 670.8 332.9 672.0 337.5C673.2 342.1 675.3 345.8 676.0 347.5C670.0 350.4 651.4 360.8 640.0 365.0C628.6 369.2 618.3 371.2 607.5 372.5C596.7 373.8 586.7 373.6 575.0 372.5C563.3 371.4 550.0 368.5 537.5 366.0C525.0 363.5 519.6 361.3 500.0 357.5C480.4 353.7 448.3 348.1 420.0 343.0C391.7 337.9 360.0 332.3 330.0 327.0C300.0 321.7 259.2 314.2 240.0 311.0C220.8 307.8 224.2 308.9 215.0 307.5C205.8 306.1 195.0 305.0 185.0 302.5C175.0 300.0 163.3 296.2 155.0 292.5C146.7 288.8 142.5 285.8 135.0 280.0C127.5 274.2 119.0 265.4 110.0 257.5C101.0 249.6 85.8 236.7 81.0 232.5C80.8 229.6 79.0 221.2 79.5 215.0C80.0 208.8 80.6 203.2 84.0 195.0C87.4 186.8 97.3 170.8 100.0 166.0Z" fill="url(#gBarL)" stroke="none" stroke-width="0.9" stroke-linejoin="round" stroke-linecap="round" mask="url(#maskL)"/>
<path d="M100.0 166.0C105.8 170.4 124.2 184.3 135.0 192.5C145.8 200.7 155.8 209.2 165.0 215.0C174.2 220.8 181.7 224.3 190.0 227.5C198.3 230.7 203.3 231.6 215.0 234.0C226.7 236.4 240.8 238.8 260.0 242.0C279.2 245.2 300.8 248.5 330.0 253.5C359.2 258.5 406.7 267.2 435.0 272.0C463.3 276.8 480.8 279.1 500.0 282.5C519.2 285.9 535.4 289.7 550.0 292.5C564.6 295.3 577.9 298.7 587.5 299.5C597.1 300.3 598.8 299.5 607.5 297.5C616.2 295.5 628.8 291.1 640.0 287.5C651.2 283.9 669.2 277.9 675.0 276.0C674.2 279.2 671.5 287.7 670.5 295.0C669.5 302.3 668.8 312.9 669.0 320.0C669.2 327.1 670.8 332.9 672.0 337.5C673.2 342.1 675.3 345.8 676.0 347.5C670.0 350.4 651.4 360.8 640.0 365.0C628.6 369.2 618.3 371.2 607.5 372.5C596.7 373.8 586.7 373.6 575.0 372.5C563.3 371.4 550.0 368.5 537.5 366.0C525.0 363.5 519.6 361.3 500.0 357.5C480.4 353.7 448.3 348.1 420.0 343.0C391.7 337.9 360.0 332.3 330.0 327.0C300.0 321.7 259.2 314.2 240.0 311.0C220.8 307.8 224.2 308.9 215.0 307.5C205.8 306.1 195.0 305.0 185.0 302.5C175.0 300.0 163.3 296.2 155.0 292.5C146.7 288.8 142.5 285.8 135.0 280.0C127.5 274.2 119.0 265.4 110.0 257.5C101.0 249.6 85.8 236.7 81.0 232.5C80.8 229.6 79.0 221.2 79.5 215.0C80.0 208.8 80.6 203.2 84.0 195.0C87.4 186.8 97.3 170.8 100.0 166.0Z" fill="url(#gBarR)" stroke="none" stroke-width="0.9" stroke-linejoin="round" stroke-linecap="round" mask="url(#maskR)"/>
<path d="M100.0 166.0C105.8 170.4 124.2 184.3 135.0 192.5C145.8 200.7 155.8 209.2 165.0 215.0C174.2 220.8 181.7 224.3 190.0 227.5C198.3 230.7 203.3 231.6 215.0 234.0C226.7 236.4 240.8 238.8 260.0 242.0C279.2 245.2 300.8 248.5 330.0 253.5C359.2 258.5 406.7 267.2 435.0 272.0C463.3 276.8 480.8 279.1 500.0 282.5C519.2 285.9 535.4 289.7 550.0 292.5C564.6 295.3 577.9 298.7 587.5 299.5C597.1 300.3 598.8 299.5 607.5 297.5C616.2 295.5 628.8 291.1 640.0 287.5C651.2 283.9 669.2 277.9 675.0 276.0C674.2 279.2 671.5 287.7 670.5 295.0C669.5 302.3 668.8 312.9 669.0 320.0C669.2 327.1 670.8 332.9 672.0 337.5C673.2 342.1 675.3 345.8 676.0 347.5C670.0 350.4 651.4 360.8 640.0 365.0C628.6 369.2 618.3 371.2 607.5 372.5C596.7 373.8 586.7 373.6 575.0 372.5C563.3 371.4 550.0 368.5 537.5 366.0C525.0 363.5 519.6 361.3 500.0 357.5C480.4 353.7 448.3 348.1 420.0 343.0C391.7 337.9 360.0 332.3 330.0 327.0C300.0 321.7 259.2 314.2 240.0 311.0C220.8 307.8 224.2 308.9 215.0 307.5C205.8 306.1 195.0 305.0 185.0 302.5C175.0 300.0 163.3 296.2 155.0 292.5C146.7 288.8 142.5 285.8 135.0 280.0C127.5 274.2 119.0 265.4 110.0 257.5C101.0 249.6 85.8 236.7 81.0 232.5C80.8 229.6 79.0 221.2 79.5 215.0C80.0 208.8 80.6 203.2 84.0 195.0C87.4 186.8 97.3 170.8 100.0 166.0Z" fill="none" stroke="#1c1c14" stroke-width="1.3" stroke-linejoin="round" stroke-linecap="round" />
<path d="M215.3 212.0C215.3 211.5 214.9 210.2 215.5 209.0C216.1 207.8 216.1 208.0 219.0 205.0C221.9 202.0 229.4 194.4 233.0 191.0C236.6 187.6 237.8 186.6 240.6 184.4C243.4 182.2 246.6 179.8 250.0 178.0C253.4 176.2 258.2 174.8 261.0 173.5C263.8 172.2 264.8 171.0 267.0 170.5C269.2 170.0 271.0 169.9 274.4 170.3C277.8 170.7 282.8 171.9 287.5 173.0C292.2 174.1 296.9 176.2 302.5 177.0C308.1 177.8 315.4 177.6 321.0 178.0C326.6 178.4 332.1 178.9 336.0 179.7C339.9 180.4 342.8 181.3 344.7 182.5C346.6 183.7 347.0 186.2 347.5 187.0C347.5 191.6 348.0 209.2 347.5 214.4C347.0 219.6 346.3 216.9 344.7 218.0C343.1 219.1 339.1 220.5 338.0 221.0L336.0 225.6C335.4 225.8 336.5 227.0 332.5 226.5C328.5 226.0 315.4 223.4 312.0 222.8L311.0 217.5L301.0 216.5C300.3 217.4 298.1 219.6 297.0 222.0C295.9 224.4 294.8 227.6 294.2 231.0C293.6 234.4 293.6 240.6 293.5 242.5C292.9 242.6 292.9 243.0 290.0 243.3C287.1 243.6 279.9 243.8 276.0 244.5C272.1 245.2 272.5 246.7 266.9 247.2C261.3 247.7 249.5 247.7 242.5 247.4C235.5 247.1 228.9 246.2 225.0 245.5C221.1 244.8 220.6 244.5 219.0 243.4C217.4 242.3 215.9 244.0 215.3 238.8C214.7 233.5 215.3 216.5 215.3 212.0Z" fill="#454547" stroke="#0c0c0c" stroke-width="1.0" stroke-linejoin="round" stroke-linecap="round" />
<path d="M301.0 216.5C301.6 214.9 302.3 209.8 304.4 207.0C306.5 204.2 310.6 200.9 313.8 199.8C316.9 198.7 320.2 199.3 323.0 200.3C325.8 201.3 328.4 203.4 330.6 206.0C332.8 208.6 334.8 213.5 336.0 216.0C337.2 218.5 337.7 220.2 338.0 221.0L336.0 225.6C335.4 225.8 336.5 227.0 332.5 226.5C328.5 226.0 315.4 223.4 312.0 222.8L311.0 217.5L301.0 216.5Z" fill="#2a2a2c" stroke="#0c0c0c" stroke-width="0.8" stroke-linejoin="round" stroke-linecap="round" />
<path d="M215.5 209.0C216.1 208.3 216.1 208.0 219.0 205.0C221.9 202.0 229.4 194.4 233.0 191.0C236.6 187.6 237.8 186.6 240.6 184.4C243.4 182.2 246.6 179.8 250.0 178.0C253.4 176.2 258.2 174.8 261.0 173.5C263.8 172.2 264.8 171.0 267.0 170.5C269.2 170.0 271.0 169.9 274.4 170.3C277.8 170.7 282.8 171.9 287.5 173.0C292.2 174.1 296.9 176.2 302.5 177.0C308.1 177.8 315.4 177.6 321.0 178.0C326.6 178.4 332.1 178.9 336.0 179.7C339.9 180.4 342.8 181.3 344.7 182.5C346.6 183.7 347.0 186.2 347.5 187.0C345.6 186.1 340.4 182.8 336.0 181.8C331.6 180.8 326.0 180.4 321.0 180.8C316.0 181.2 310.7 181.9 306.0 184.4C301.3 186.9 296.7 191.2 293.0 195.6C289.3 200.0 286.1 205.6 283.8 210.6C281.4 215.6 279.8 223.1 279.0 225.6C277.5 223.2 274.5 213.0 270.0 211.0C265.5 209.0 258.5 213.3 252.0 213.6C245.5 213.9 237.0 213.2 231.0 212.6C225.0 212.0 218.6 210.6 216.0 210.0C213.4 209.4 215.6 209.2 215.5 209.0Z" fill="url(#gClTop)" stroke="none" stroke-width="0.9" stroke-linejoin="round" stroke-linecap="round" />
<path d="M277.0 243.0C277.3 240.1 277.9 231.0 279.0 225.6C280.1 220.2 281.4 215.6 283.8 210.6C286.1 205.6 289.3 200.0 293.0 195.6C296.7 191.2 301.3 186.9 306.0 184.4C310.7 181.9 316.0 181.1 321.0 180.6C326.0 180.1 332.1 180.9 336.0 181.5C339.9 182.1 342.6 182.9 344.5 184.0C346.4 185.1 347.0 187.3 347.5 188.0C347.5 192.4 348.0 209.4 347.5 214.4C347.0 219.4 346.3 216.9 344.7 218.0C343.1 219.1 339.1 220.5 338.0 221.0C337.7 220.2 337.2 218.5 336.0 216.0C334.8 213.5 332.8 208.6 330.6 206.0C328.4 203.4 325.8 201.3 323.0 200.3C320.2 199.3 316.9 198.7 313.8 199.8C310.6 200.9 306.5 204.2 304.4 207.0C302.3 209.8 302.2 214.0 301.0 216.5C299.8 219.0 298.1 219.6 297.0 222.0C295.9 224.4 294.8 227.6 294.2 231.0C293.6 234.4 293.6 240.6 293.5 242.5L277.0 243.0Z" fill="#3f3f41" stroke="#0c0c0c" stroke-width="0.8" stroke-linejoin="round" stroke-linecap="round" />
<path d="M282.0 242.0C282.2 239.3 282.4 231.0 283.5 226.0C284.6 221.0 286.2 216.5 288.5 212.0C290.8 207.5 293.8 202.6 297.0 199.0C300.2 195.4 304.0 192.5 308.0 190.5C312.0 188.5 316.7 187.1 321.0 186.8C325.3 186.5 330.5 187.3 334.0 188.5C337.5 189.7 340.7 193.1 342.0 194.0" fill="none" stroke="#101010" stroke-width="0.6" stroke-linejoin="round" stroke-linecap="round" />
<path d="M289.0 236.0C289.2 234.0 289.2 227.8 290.0 224.0C290.8 220.2 292.2 216.5 294.0 213.0C295.8 209.5 298.2 205.8 301.0 203.0C303.8 200.2 307.7 197.6 311.0 196.0C314.3 194.4 317.7 193.5 321.0 193.5C324.3 193.5 328.2 194.4 331.0 196.0C333.8 197.6 336.8 201.8 338.0 203.0" fill="none" stroke="#77777a" stroke-width="2.2" stroke-linejoin="round" stroke-linecap="round" stroke-dasharray="0.8 1.5" opacity="0.75" style="stroke-linecap:butt"/>
<path d="M340.0 190.0L347.5 188.0C347.5 192.4 348.0 209.4 347.5 214.4C347.0 219.4 346.3 216.9 344.7 218.0C343.1 219.1 339.1 220.5 338.0 221.0C338.2 218.3 338.7 210.2 339.0 205.0C339.3 199.8 339.8 192.5 340.0 190.0Z" fill="#303032" stroke="none" stroke-width="0.9" stroke-linejoin="round" stroke-linecap="round" />
<path d="M231.0 207.0C231.3 206.2 231.6 203.4 233.0 202.0C234.4 200.6 236.9 199.7 239.7 198.4C242.5 197.1 246.4 195.4 250.0 194.0C253.6 192.6 258.2 191.0 261.0 190.0C263.8 189.0 265.2 187.7 267.0 188.0C268.8 188.3 270.8 190.4 271.6 192.0C272.4 193.6 272.1 195.8 271.6 197.5C271.1 199.2 270.5 200.3 268.8 202.0C267.0 203.7 263.8 206.4 261.0 207.8C258.2 209.2 256.3 210.2 252.0 210.6C247.7 211.0 238.5 210.6 235.0 210.0C231.5 209.4 231.7 207.5 231.0 207.0Z" fill="#2b2b2d" stroke="#0c0c0c" stroke-width="0.8" stroke-linejoin="round" stroke-linecap="round" />
<path d="M261.0 190.0C262.0 189.7 265.2 187.7 267.0 188.0C268.8 188.3 270.8 190.4 271.6 192.0C272.4 193.6 272.1 195.8 271.6 197.5C271.1 199.2 270.5 200.3 268.8 202.0C267.0 203.7 262.1 208.5 261.0 207.8C259.9 207.1 262.0 201.0 262.0 198.0C262.0 195.0 261.2 191.3 261.0 190.0Z" fill="#454547" stroke="none" stroke-width="0.9" stroke-linejoin="round" stroke-linecap="round" />
<path d="M330.0 181.5C331.0 181.9 333.8 183.5 336.0 184.0C338.2 184.5 341.8 184.4 343.0 184.5" fill="none" stroke="#0c0c0c" stroke-width="0.7" stroke-linejoin="round" stroke-linecap="round" />
<path d="M215.3 213.0C217.9 213.4 224.9 214.9 231.0 215.5C237.1 216.1 245.8 216.8 252.0 216.5C258.2 216.2 264.0 212.4 268.0 214.0C272.0 215.6 274.7 224.0 276.0 226.0L277.0 243.0C275.3 243.7 272.6 246.5 266.9 247.2C261.1 247.9 249.5 247.7 242.5 247.4C235.5 247.1 228.9 246.2 225.0 245.5C221.1 244.8 220.6 244.5 219.0 243.4C217.4 242.3 215.9 243.8 215.3 238.8C214.7 233.7 215.3 217.3 215.3 213.0Z" fill="url(#gClFront)" stroke="none" stroke-width="0.9" stroke-linejoin="round" stroke-linecap="round" />
<path d="M215.3 212.0C215.3 211.5 214.9 210.2 215.5 209.0C216.1 207.8 216.1 208.0 219.0 205.0C221.9 202.0 229.4 194.4 233.0 191.0C236.6 187.6 237.8 186.6 240.6 184.4C243.4 182.2 246.6 179.8 250.0 178.0C253.4 176.2 258.2 174.8 261.0 173.5C263.8 172.2 264.8 171.0 267.0 170.5C269.2 170.0 271.0 169.9 274.4 170.3C277.8 170.7 282.8 171.9 287.5 173.0C292.2 174.1 296.9 176.2 302.5 177.0C308.1 177.8 315.4 177.6 321.0 178.0C326.6 178.4 332.1 178.9 336.0 179.7C339.9 180.4 342.8 181.3 344.7 182.5C346.6 183.7 347.0 186.2 347.5 187.0C347.5 191.6 348.0 209.2 347.5 214.4C347.0 219.6 346.3 216.9 344.7 218.0C343.1 219.1 339.1 220.5 338.0 221.0L336.0 225.6C335.4 225.8 336.5 227.0 332.5 226.5C328.5 226.0 315.4 223.4 312.0 222.8L311.0 217.5L301.0 216.5C300.3 217.4 298.1 219.6 297.0 222.0C295.9 224.4 294.8 227.6 294.2 231.0C293.6 234.4 293.6 240.6 293.5 242.5C292.9 242.6 292.9 243.0 290.0 243.3C287.1 243.6 279.9 243.8 276.0 244.5C272.1 245.2 272.5 246.7 266.9 247.2C261.3 247.7 249.5 247.7 242.5 247.4C235.5 247.1 228.9 246.2 225.0 245.5C221.1 244.8 220.6 244.5 219.0 243.4C217.4 242.3 215.9 244.0 215.3 238.8C214.7 233.5 215.3 216.5 215.3 212.0Z" fill="none" stroke="#0c0c0c" stroke-width="1.0" stroke-linejoin="round" stroke-linecap="round" />
<path d="M241.3 156.0 L241.3 210.0 A10.1 2.6 0 0 0 261.5 210.0 L261.5 156.0 Z" fill="url(#gShaft)" stroke="#111" stroke-width="1.1" stroke-linejoin="round" stroke-linecap="round" />
<path d="M233.9 144.5 L233.9 156.0 A17.5 4.6 0 0 0 268.9 156.0 L268.9 144.5 A17.5 4.6 0 0 0 233.9 144.5 Z" fill="url(#gHead)" stroke="#111" stroke-width="1.1" stroke-linejoin="round" stroke-linecap="round" />
<ellipse cx="251.4" cy="144.5" rx="16.3" ry="4.4" fill="#d0ccc9" stroke="#6a6662" stroke-width="0.7"/>
<ellipse cx="251.4" cy="144.7" rx="8" ry="2.5" fill="#b0aca8" stroke="#1a1a1a" stroke-width="0.9"/>
<path d="M244.4 144.9 L258.4 144.5 M251.4 142.5 L251.4 146.8" fill="none" stroke="#444" stroke-width="0.5" stroke-linejoin="round" stroke-linecap="round" />
<path d="M231.0 207.0C231.7 207.5 231.5 209.4 235.0 210.0C238.5 210.6 247.7 211.0 252.0 210.6C256.3 210.2 258.2 209.2 261.0 207.8C263.8 206.4 267.5 203.0 268.8 202.0C269.3 203.0 272.1 205.9 272.0 208.0C271.9 210.1 268.7 213.4 268.0 214.5C265.3 214.9 258.2 216.8 252.0 217.0C245.8 217.2 237.0 216.6 231.0 216.0C225.0 215.4 218.5 213.9 216.0 213.5C216.0 212.9 215.0 210.8 216.0 210.0C217.0 209.2 219.5 209.0 222.0 208.5C224.5 208.0 229.5 207.2 231.0 207.0Z" fill="#4f4f51" stroke="none" stroke-width="0.9" stroke-linejoin="round" stroke-linecap="round" />
<path d="M231.0 207.0C231.7 207.5 231.5 209.4 235.0 210.0C238.5 210.6 247.7 211.0 252.0 210.6C256.3 210.2 258.2 209.2 261.0 207.8C263.8 206.4 267.5 203.0 268.8 202.0" fill="none" stroke="#0c0c0c" stroke-width="0.8" stroke-linejoin="round" stroke-linecap="round" />
<path d="M241.3 246.0 L241.3 356.0 A10.1 2.6 0 0 0 261.5 356.0 L261.5 247.0 Z" fill="url(#gShaft)" stroke="#111" stroke-width="1.1" stroke-linejoin="round" stroke-linecap="round" />
<path d="M438.1 252.3C438.1 251.8 437.7 250.5 438.3 249.3C438.9 248.1 438.9 248.3 441.8 245.3C444.7 242.3 452.2 234.7 455.8 231.3C459.4 227.9 460.6 226.9 463.4 224.7C466.2 222.5 469.4 220.1 472.8 218.3C476.2 216.5 481.0 215.1 483.8 213.8C486.6 212.6 487.6 211.3 489.8 210.8C492.0 210.3 493.8 210.2 497.2 210.6C500.6 211.0 505.6 212.2 510.3 213.3C515.0 214.4 519.7 216.5 525.3 217.3C530.9 218.1 538.2 217.9 543.8 218.3C549.4 218.8 554.8 219.2 558.8 220.0C562.8 220.8 565.6 221.6 567.5 222.8C569.4 224.0 569.8 226.6 570.3 227.3C570.3 231.9 570.8 249.5 570.3 254.7C569.8 259.9 569.1 257.2 567.5 258.3C565.9 259.4 561.9 260.8 560.8 261.3L558.8 265.9C558.2 266.0 559.3 267.3 555.3 266.8C551.3 266.3 538.2 263.7 534.8 263.1L533.8 257.8L523.8 256.8C523.1 257.7 520.9 259.9 519.8 262.3C518.7 264.7 517.6 267.9 517.0 271.3C516.4 274.7 516.4 280.9 516.3 282.8C515.7 282.9 515.7 283.3 512.8 283.6C509.9 283.9 502.6 284.2 498.8 284.8C495.0 285.4 495.3 287.0 489.7 287.5C484.1 288.0 472.3 288.0 465.3 287.7C458.3 287.4 451.7 286.5 447.8 285.8C443.9 285.1 443.4 284.8 441.8 283.7C440.2 282.6 438.7 284.3 438.1 279.1C437.5 273.8 438.1 256.8 438.1 252.3Z" fill="#454547" stroke="#0c0c0c" stroke-width="1.0" stroke-linejoin="round" stroke-linecap="round" />
<path d="M523.8 256.8C524.4 255.2 525.1 250.1 527.2 247.3C529.3 244.5 533.4 241.2 536.5 240.1C539.6 239.0 543.0 239.6 545.8 240.6C548.6 241.6 551.2 243.7 553.4 246.3C555.6 248.9 557.6 253.8 558.8 256.3C560.0 258.8 560.5 260.5 560.8 261.3L558.8 265.9C558.2 266.0 559.3 267.3 555.3 266.8C551.3 266.3 538.2 263.7 534.8 263.1L533.8 257.8L523.8 256.8Z" fill="#2a2a2c" stroke="#0c0c0c" stroke-width="0.8" stroke-linejoin="round" stroke-linecap="round" />
<path d="M438.3 249.3C438.9 248.6 438.9 248.3 441.8 245.3C444.7 242.3 452.2 234.7 455.8 231.3C459.4 227.9 460.6 226.9 463.4 224.7C466.2 222.5 469.4 220.1 472.8 218.3C476.2 216.5 481.0 215.1 483.8 213.8C486.6 212.6 487.6 211.3 489.8 210.8C492.0 210.3 493.8 210.2 497.2 210.6C500.6 211.0 505.6 212.2 510.3 213.3C515.0 214.4 519.7 216.5 525.3 217.3C530.9 218.1 538.2 217.9 543.8 218.3C549.4 218.8 554.8 219.2 558.8 220.0C562.8 220.8 565.6 221.6 567.5 222.8C569.4 224.0 569.8 226.6 570.3 227.3C568.4 226.4 563.2 223.1 558.8 222.1C554.4 221.1 548.8 220.7 543.8 221.1C538.8 221.5 533.5 222.2 528.8 224.7C524.1 227.2 519.5 231.5 515.8 235.9C512.1 240.3 508.9 245.9 506.6 250.9C504.2 255.9 502.6 263.4 501.8 265.9C500.3 263.5 497.3 253.3 492.8 251.3C488.3 249.3 481.3 253.6 474.8 253.9C468.3 254.2 459.8 253.5 453.8 252.9C447.8 252.3 441.4 250.9 438.8 250.3C436.2 249.7 438.4 249.5 438.3 249.3Z" fill="url(#gClTop)" stroke="none" stroke-width="0.9" stroke-linejoin="round" stroke-linecap="round" />
<path d="M499.8 283.3C500.1 280.4 500.7 271.3 501.8 265.9C502.9 260.5 504.2 255.9 506.6 250.9C508.9 245.9 512.1 240.3 515.8 235.9C519.5 231.5 524.1 227.2 528.8 224.7C533.5 222.2 538.8 221.4 543.8 220.9C548.8 220.4 554.9 221.2 558.8 221.8C562.7 222.4 565.4 223.2 567.3 224.3C569.2 225.4 569.8 227.6 570.3 228.3C570.3 232.7 570.8 249.7 570.3 254.7C569.8 259.7 569.1 257.2 567.5 258.3C565.9 259.4 561.9 260.8 560.8 261.3C560.5 260.5 560.0 258.8 558.8 256.3C557.6 253.8 555.6 248.9 553.4 246.3C551.2 243.7 548.6 241.6 545.8 240.6C543.0 239.6 539.6 239.0 536.5 240.1C533.4 241.2 529.3 244.5 527.2 247.3C525.1 250.1 525.0 254.3 523.8 256.8C522.6 259.3 520.9 259.9 519.8 262.3C518.7 264.7 517.6 267.9 517.0 271.3C516.4 274.7 516.4 280.9 516.3 282.8L499.8 283.3Z" fill="#3f3f41" stroke="#0c0c0c" stroke-width="0.8" stroke-linejoin="round" stroke-linecap="round" />
<path d="M504.8 282.3C505.1 279.6 505.2 271.3 506.3 266.3C507.4 261.3 509.1 256.8 511.3 252.3C513.5 247.8 516.5 242.9 519.8 239.3C523.0 235.7 526.8 232.8 530.8 230.8C534.8 228.8 539.5 227.4 543.8 227.1C548.1 226.8 553.3 227.6 556.8 228.8C560.3 230.0 563.5 233.4 564.8 234.3" fill="none" stroke="#101010" stroke-width="0.6" stroke-linejoin="round" stroke-linecap="round" />
<path d="M511.8 276.3C512.0 274.3 512.0 268.1 512.8 264.3C513.6 260.5 515.0 256.8 516.8 253.3C518.6 249.8 521.0 246.1 523.8 243.3C526.6 240.5 530.5 237.9 533.8 236.3C537.1 234.7 540.5 233.8 543.8 233.8C547.1 233.8 551.0 234.7 553.8 236.3C556.6 237.9 559.6 242.1 560.8 243.3" fill="none" stroke="#77777a" stroke-width="2.2" stroke-linejoin="round" stroke-linecap="round" stroke-dasharray="0.8 1.5" opacity="0.75" style="stroke-linecap:butt"/>
<path d="M562.8 230.3L570.3 228.3C570.3 232.7 570.8 249.7 570.3 254.7C569.8 259.7 569.1 257.2 567.5 258.3C565.9 259.4 561.9 260.8 560.8 261.3C561.0 258.6 561.5 250.5 561.8 245.3C562.1 240.1 562.6 232.8 562.8 230.3Z" fill="#303032" stroke="none" stroke-width="0.9" stroke-linejoin="round" stroke-linecap="round" />
<path d="M453.8 247.3C454.1 246.5 454.4 243.7 455.8 242.3C457.2 240.9 459.7 240.0 462.5 238.7C465.3 237.4 469.2 235.7 472.8 234.3C476.4 232.9 481.0 231.3 483.8 230.3C486.6 229.3 488.0 228.0 489.8 228.3C491.6 228.6 493.6 230.7 494.4 232.3C495.2 233.9 494.9 236.1 494.4 237.8C493.9 239.5 493.3 240.6 491.6 242.3C489.8 244.0 486.6 246.7 483.8 248.1C481.0 249.5 479.1 250.5 474.8 250.9C470.5 251.3 461.3 250.9 457.8 250.3C454.3 249.7 454.5 247.8 453.8 247.3Z" fill="#2b2b2d" stroke="#0c0c0c" stroke-width="0.8" stroke-linejoin="round" stroke-linecap="round" />
<path d="M483.8 230.3C484.8 230.0 488.0 228.0 489.8 228.3C491.6 228.6 493.6 230.7 494.4 232.3C495.2 233.9 494.9 236.1 494.4 237.8C493.9 239.5 493.3 240.6 491.6 242.3C489.8 244.0 484.9 248.8 483.8 248.1C482.7 247.4 484.8 241.3 484.8 238.3C484.8 235.3 484.0 231.6 483.8 230.3Z" fill="#454547" stroke="none" stroke-width="0.9" stroke-linejoin="round" stroke-linecap="round" />
<path d="M552.8 221.8C553.8 222.2 556.6 223.8 558.8 224.3C561.0 224.8 564.6 224.7 565.8 224.8" fill="none" stroke="#0c0c0c" stroke-width="0.7" stroke-linejoin="round" stroke-linecap="round" />
<path d="M438.1 253.3C440.7 253.7 447.7 255.2 453.8 255.8C459.9 256.4 468.6 257.1 474.8 256.8C481.0 256.6 486.8 252.7 490.8 254.3C494.8 255.9 497.5 264.3 498.8 266.3L499.8 283.3C498.1 284.0 495.4 286.8 489.7 287.5C483.9 288.2 472.3 288.0 465.3 287.7C458.3 287.4 451.7 286.5 447.8 285.8C443.9 285.1 443.4 284.8 441.8 283.7C440.2 282.6 438.7 284.1 438.1 279.1C437.5 274.0 438.1 257.6 438.1 253.3Z" fill="url(#gClFront)" stroke="none" stroke-width="0.9" stroke-linejoin="round" stroke-linecap="round" />
<path d="M438.1 252.3C438.1 251.8 437.7 250.5 438.3 249.3C438.9 248.1 438.9 248.3 441.8 245.3C444.7 242.3 452.2 234.7 455.8 231.3C459.4 227.9 460.6 226.9 463.4 224.7C466.2 222.5 469.4 220.1 472.8 218.3C476.2 216.5 481.0 215.1 483.8 213.8C486.6 212.6 487.6 211.3 489.8 210.8C492.0 210.3 493.8 210.2 497.2 210.6C500.6 211.0 505.6 212.2 510.3 213.3C515.0 214.4 519.7 216.5 525.3 217.3C530.9 218.1 538.2 217.9 543.8 218.3C549.4 218.8 554.8 219.2 558.8 220.0C562.8 220.8 565.6 221.6 567.5 222.8C569.4 224.0 569.8 226.6 570.3 227.3C570.3 231.9 570.8 249.5 570.3 254.7C569.8 259.9 569.1 257.2 567.5 258.3C565.9 259.4 561.9 260.8 560.8 261.3L558.8 265.9C558.2 266.0 559.3 267.3 555.3 266.8C551.3 266.3 538.2 263.7 534.8 263.1L533.8 257.8L523.8 256.8C523.1 257.7 520.9 259.9 519.8 262.3C518.7 264.7 517.6 267.9 517.0 271.3C516.4 274.7 516.4 280.9 516.3 282.8C515.7 282.9 515.7 283.3 512.8 283.6C509.9 283.9 502.6 284.2 498.8 284.8C495.0 285.4 495.3 287.0 489.7 287.5C484.1 288.0 472.3 288.0 465.3 287.7C458.3 287.4 451.7 286.5 447.8 285.8C443.9 285.1 443.4 284.8 441.8 283.7C440.2 282.6 438.7 284.3 438.1 279.1C437.5 273.8 438.1 256.8 438.1 252.3Z" fill="none" stroke="#0c0c0c" stroke-width="1.0" stroke-linejoin="round" stroke-linecap="round" />
<path d="M463.6 196.0 L463.6 250.0 A10.1 2.6 0 0 0 483.8 250.0 L483.8 196.0 Z" fill="url(#gShaft)" stroke="#111" stroke-width="1.1" stroke-linejoin="round" stroke-linecap="round" />
<path d="M456.2 184.5 L456.2 196.0 A17.5 4.6 0 0 0 491.2 196.0 L491.2 184.5 A17.5 4.6 0 0 0 456.2 184.5 Z" fill="url(#gHead)" stroke="#111" stroke-width="1.1" stroke-linejoin="round" stroke-linecap="round" />
<ellipse cx="473.7" cy="184.5" rx="16.3" ry="4.4" fill="#d0ccc9" stroke="#6a6662" stroke-width="0.7"/>
<ellipse cx="473.7" cy="184.7" rx="8" ry="2.5" fill="#b0aca8" stroke="#1a1a1a" stroke-width="0.9"/>
<path d="M466.7 184.9 L480.7 184.5 M473.7 182.5 L473.7 186.8" fill="none" stroke="#444" stroke-width="0.5" stroke-linejoin="round" stroke-linecap="round" />
<path d="M453.3 247.0C454.0 247.5 453.8 249.4 457.3 250.0C460.8 250.6 470.0 251.0 474.3 250.6C478.6 250.2 480.5 249.2 483.3 247.8C486.1 246.4 489.8 243.0 491.1 242.0C491.6 243.0 494.4 245.9 494.3 248.0C494.2 250.1 491.0 253.4 490.3 254.5C487.6 254.9 480.5 256.8 474.3 257.0C468.1 257.2 459.3 256.6 453.3 256.0C447.3 255.4 440.8 253.9 438.3 253.5C438.3 252.9 437.3 250.8 438.3 250.0C439.3 249.2 441.8 249.0 444.3 248.5C446.8 248.0 451.8 247.2 453.3 247.0Z" fill="#4f4f51" stroke="none" stroke-width="0.9" stroke-linejoin="round" stroke-linecap="round" />
<path d="M453.3 247.0C454.0 247.5 453.8 249.4 457.3 250.0C460.8 250.6 470.0 251.0 474.3 250.6C478.6 250.2 480.5 249.2 483.3 247.8C486.1 246.4 489.8 243.0 491.1 242.0" fill="none" stroke="#0c0c0c" stroke-width="0.8" stroke-linejoin="round" stroke-linecap="round" />
<path d="M463.6 286.0 L463.6 396.0 A10.1 2.6 0 0 0 483.8 396.0 L483.8 287.0 Z" fill="url(#gShaft)" stroke="#111" stroke-width="1.1" stroke-linejoin="round" stroke-linecap="round" />
<path d="M214.0 374.0C214.1 373.5 214.0 372.0 214.5 371.0C215.0 370.0 215.4 368.8 217.0 368.0C218.6 367.2 222.8 366.3 224.0 366.0C224.2 365.6 224.0 364.2 225.0 363.5C226.0 362.8 227.5 361.8 230.0 362.0C232.5 362.2 235.0 363.7 240.0 365.0C245.0 366.3 255.7 369.3 260.0 370.0C264.3 370.7 265.0 369.2 266.0 369.0C266.5 367.5 268.0 363.5 269.0 360.0C270.0 356.5 271.5 350.0 272.0 348.0C274.7 347.2 283.3 344.2 288.0 343.0C292.7 341.8 295.0 341.2 300.0 341.0C305.0 340.8 312.0 341.5 318.0 342.0C324.0 342.5 331.5 343.1 336.0 344.0C340.5 344.9 343.1 346.2 345.0 347.5C346.9 348.8 347.1 351.2 347.5 352.0L347.5 466.0C346.9 466.8 345.9 469.0 344.0 470.5C342.1 472.0 338.6 473.7 336.0 475.0C333.4 476.3 329.8 477.9 328.5 478.5C328.2 480.8 327.8 487.6 327.0 492.0C326.2 496.4 325.5 501.2 324.0 505.0C322.5 508.8 320.7 512.2 318.0 514.5C315.3 516.8 312.7 518.2 308.0 519.0C303.3 519.8 296.3 519.5 290.0 519.5C283.7 519.5 276.3 519.3 270.0 519.0C263.7 518.7 256.3 518.3 252.0 517.5C247.7 516.7 246.5 515.6 244.0 514.0C241.5 512.4 238.7 510.7 237.0 508.0C235.3 505.3 234.5 499.3 234.0 497.6C231.8 497.5 224.0 497.3 221.0 496.8C218.0 496.3 217.2 495.6 216.0 494.5C214.8 493.4 214.3 490.8 214.0 490.0L214.0 374.0Z" fill="#343436" stroke="#0c0c0c" stroke-width="1.0" stroke-linejoin="round" stroke-linecap="round" />
<path d="M234.0 497.6C234.5 499.3 235.3 505.3 237.0 508.0C238.7 510.7 241.5 512.4 244.0 514.0C246.5 515.6 247.7 516.7 252.0 517.5C256.3 518.3 263.7 518.7 270.0 519.0C276.3 519.3 285.3 520.0 290.0 519.5C294.7 519.0 296.7 516.6 298.0 516.0C296.7 514.7 292.0 511.1 290.0 508.0C288.0 504.9 286.7 499.3 286.0 497.6L234.0 497.6Z" fill="#2d2d2f" stroke="#0c0c0c" stroke-width="0.8" stroke-linejoin="round" stroke-linecap="round" />
<path d="M272.0 348.0C271.5 350.0 270.0 356.5 269.0 360.0C268.0 363.5 266.5 367.5 266.0 369.0C267.7 369.5 272.5 371.2 276.0 372.0C279.5 372.8 285.2 373.7 287.0 374.0C287.8 376.3 289.2 384.0 292.0 388.0C294.8 392.0 300.0 396.2 304.0 398.0C308.0 399.8 312.0 400.7 316.0 399.0C320.0 397.3 324.7 392.8 328.0 388.0C331.3 383.2 334.0 375.7 336.0 370.0C338.0 364.3 339.3 356.7 340.0 354.0L338.0 353.5L328.0 350.0L311.0 356.0L311.0 360.0L293.0 357.0L293.0 349.0L272.0 348.0Z" fill="url(#gRSad)" stroke="#0c0c0c" stroke-width="0.8" stroke-linejoin="round" stroke-linecap="round" />
<path d="M340.0 354.0L347.5 352.0L347.5 466.0C346.9 466.8 345.9 469.0 344.0 470.5C342.1 472.0 338.6 473.7 336.0 475.0C333.4 476.3 329.8 477.9 328.5 478.5C328.7 475.4 329.0 470.6 329.5 460.0C330.0 449.4 330.4 429.7 331.5 415.0C332.6 400.3 334.6 382.2 336.0 372.0C337.4 361.8 339.3 357.0 340.0 354.0Z" fill="#39393b" stroke="#0c0c0c" stroke-width="0.8" stroke-linejoin="round" stroke-linecap="round" />
<path d="M272.0 347.5C274.7 346.8 283.3 344.1 288.0 343.0C292.7 341.9 295.0 341.2 300.0 341.0C305.0 340.8 312.0 341.5 318.0 342.0C324.0 342.5 331.5 343.1 336.0 344.0C340.5 344.9 343.1 346.2 345.0 347.5C346.9 348.8 347.1 351.2 347.5 352.0L340.0 354.0L328.0 350.0L311.0 356.0L311.0 360.0L293.0 357.0L293.0 349.0C291.2 348.9 285.5 348.8 282.0 348.5C278.5 348.2 273.7 347.7 272.0 347.5Z" fill="#4a4a4c" stroke="#0c0c0c" stroke-width="0.8" stroke-linejoin="round" stroke-linecap="round" />
<path d="M293.0 349.0C293.5 348.6 294.8 347.2 296.0 346.5C297.2 345.8 297.3 345.2 300.0 345.0C302.7 344.8 308.0 344.8 312.0 345.0C316.0 345.2 321.3 345.2 324.0 346.0C326.7 346.8 327.3 349.3 328.0 350.0L311.0 356.0L311.0 360.0L293.0 357.0L293.0 349.0Z" fill="#39393b" stroke="#0c0c0c" stroke-width="0.8" stroke-linejoin="round" stroke-linecap="round" />
<path d="M293.0 351.5L311.0 354.5L311.0 360.0L293.0 357.0L293.0 351.5Z" fill="#262628" stroke="#0c0c0c" stroke-width="0.6" stroke-linejoin="round" stroke-linecap="round" />
<path d="M287.0 374.0C287.8 376.3 289.2 384.0 292.0 388.0C294.8 392.0 300.0 396.2 304.0 398.0C308.0 399.8 312.0 400.7 316.0 399.0C320.0 397.3 324.7 392.8 328.0 388.0C331.3 383.2 334.0 375.7 336.0 370.0C338.0 364.3 339.3 356.7 340.0 354.0C339.3 357.0 337.4 361.8 336.0 372.0C334.6 382.2 332.6 400.3 331.5 415.0C330.4 429.7 330.1 448.5 329.5 460.0C328.9 471.5 328.8 477.0 328.0 484.0C327.2 491.0 326.8 497.0 325.0 502.0C323.2 507.0 320.3 511.3 317.5 514.0C314.7 516.7 311.4 518.5 308.0 518.0C304.6 517.5 300.2 514.7 297.0 511.0C293.8 507.3 290.8 502.0 289.0 496.0C287.2 490.0 287.0 484.3 286.0 475.0C285.0 465.7 283.6 449.2 283.0 440.0C282.4 430.8 282.4 427.5 282.5 420.0C282.6 412.5 282.8 402.7 283.5 395.0C284.2 387.3 286.4 377.5 287.0 374.0Z" fill="#3a3a3c" stroke="#0c0c0c" stroke-width="0.8" stroke-linejoin="round" stroke-linecap="round" />
<path d="M289.5 386.0C290.2 387.1 291.6 390.2 294.0 392.5C296.4 394.8 300.3 398.2 304.0 399.5C307.7 400.8 311.9 401.7 316.0 400.0C320.1 398.3 325.1 394.3 328.5 389.5C331.9 384.7 334.7 376.2 336.5 371.0C338.3 365.8 339.0 360.2 339.5 358.0" fill="none" stroke="#a8a8aa" stroke-width="3.6" stroke-linejoin="round" stroke-linecap="round" stroke-dasharray="0.7 1.7" opacity="0.6" style="stroke-linecap:butt"/>
<path d="M287.0 396.0C288.5 397.8 292.5 404.3 296.0 407.0C299.5 409.7 304.0 411.8 308.0 412.0C312.0 412.2 316.3 410.7 320.0 408.0C323.7 405.3 328.3 398.0 330.0 396.0" fill="none" stroke="#0c0c0c" stroke-width="0.7" stroke-linejoin="round" stroke-linecap="round" />
<path d="M286.0 409.0C286.6 418.8 288.8 453.5 289.8 467.5C290.8 481.5 290.6 486.2 292.0 493.0C293.4 499.8 295.2 504.5 298.0 508.0C300.8 511.5 305.2 514.0 308.5 514.0C311.8 514.0 315.0 511.5 317.5 508.0C320.0 504.5 322.0 499.8 323.5 493.0C325.0 486.2 325.4 480.5 326.5 467.5C327.6 454.5 329.4 423.8 330.0 415.0" fill="none" stroke="#0c0c0c" stroke-width="0.7" stroke-linejoin="round" stroke-linecap="round" />
<path d="M290.5 414.0C291.9 414.8 296.0 417.5 299.0 418.5C302.0 419.5 305.3 420.0 308.5 420.0C311.7 420.0 314.9 419.5 318.0 418.5C321.1 417.5 325.5 414.8 327.0 414.0C326.5 422.9 325.0 454.3 324.0 467.5C323.0 480.7 322.2 486.8 321.0 493.0C319.8 499.2 318.8 502.2 316.8 505.0C314.8 507.8 311.6 510.0 309.0 510.0C306.4 510.0 303.3 507.8 301.0 505.0C298.7 502.2 296.4 499.2 295.0 493.0C293.6 486.8 293.5 480.7 292.8 467.5C292.0 454.3 290.9 422.9 290.5 414.0Z" fill="url(#gRTongue)" stroke="#0c0c0c" stroke-width="0.8" stroke-linejoin="round" stroke-linecap="round" />
<g transform="translate(0,0)"><path d="M311.2 432.4 L304.2 444 L311.6 448.6 L303.8 459.6 L311.2 464 L303.8 473.6 L311.2 482 M311.2 476.6 L303.9 486 L303.9 476.5" fill="none" stroke="#141414" stroke-width="4.8" stroke-linejoin="miter" stroke-linecap="square"/><path d="M311.2 432.4 L304.2 444 L311.6 448.6 L303.8 459.6 L311.2 464 L303.8 473.6 L311.2 482 M311.2 476.6 L303.9 486 L303.9 476.5" fill="none" stroke="#cbcbcb" stroke-width="2.8" stroke-linejoin="miter" stroke-linecap="butt"/></g>
<path d="M214.0 374.0C214.1 373.5 214.0 372.0 214.5 371.0C215.0 370.0 215.4 368.8 217.0 368.0C218.6 367.2 222.8 366.3 224.0 366.0C224.2 365.6 224.0 364.2 225.0 363.5C226.0 362.8 227.5 361.8 230.0 362.0C232.5 362.2 235.0 363.7 240.0 365.0C245.0 366.3 255.7 369.3 260.0 370.0C264.3 370.7 265.0 369.2 266.0 369.0C267.7 369.5 272.5 371.2 276.0 372.0C279.5 372.8 285.2 373.7 287.0 374.0C285.2 374.3 279.5 375.1 276.0 375.8C272.5 376.6 270.3 377.9 266.0 378.5C261.7 379.1 257.3 379.8 250.0 379.5C242.7 379.2 228.0 377.4 222.0 376.5C216.0 375.6 215.3 374.4 214.0 374.0Z" fill="#555557" stroke="#0c0c0c" stroke-width="0.8" stroke-linejoin="round" stroke-linecap="round" />
<path d="M233.0 370.0C233.5 369.6 234.2 368.1 236.0 367.8C237.8 367.5 241.3 367.7 244.0 368.2C246.7 368.7 251.0 370.0 252.0 371.0C253.0 372.0 252.0 373.6 250.0 374.0C248.0 374.4 242.8 374.2 240.0 373.5C237.2 372.8 234.2 370.6 233.0 370.0Z" fill="#2a2a2c" stroke="#0c0c0c" stroke-width="0.7" stroke-linejoin="round" stroke-linecap="round" />
<path d="M214.0 374.0C215.3 374.4 216.0 375.6 222.0 376.5C228.0 377.4 242.7 379.2 250.0 379.5C257.3 379.8 261.7 379.1 266.0 378.5C270.3 377.9 272.5 376.6 276.0 375.8C279.5 375.1 285.2 374.3 287.0 374.0C286.4 377.5 284.2 387.3 283.5 395.0C282.8 402.7 282.6 412.5 282.5 420.0C282.4 427.5 282.4 430.8 283.0 440.0C283.6 449.2 285.4 465.7 286.0 475.0C286.6 484.3 286.4 492.5 286.5 496.0L285.0 497.6L234.0 497.6C231.8 497.5 224.0 497.3 221.0 496.8C218.0 496.3 217.2 495.6 216.0 494.5C214.8 493.4 214.3 490.8 214.0 490.0L214.0 374.0Z" fill="url(#gRF)" stroke="#0c0c0c" stroke-width="0.9" stroke-linejoin="round" stroke-linecap="round" />
<path d="M214.0 374.0C214.1 373.5 214.0 372.0 214.5 371.0C215.0 370.0 215.4 368.8 217.0 368.0C218.6 367.2 222.8 366.3 224.0 366.0C224.2 365.6 224.0 364.2 225.0 363.5C226.0 362.8 227.5 361.8 230.0 362.0C232.5 362.2 235.0 363.7 240.0 365.0C245.0 366.3 255.7 369.3 260.0 370.0C264.3 370.7 265.0 369.2 266.0 369.0C266.5 367.5 268.0 363.5 269.0 360.0C270.0 356.5 271.5 350.0 272.0 348.0C274.7 347.2 283.3 344.2 288.0 343.0C292.7 341.8 295.0 341.2 300.0 341.0C305.0 340.8 312.0 341.5 318.0 342.0C324.0 342.5 331.5 343.1 336.0 344.0C340.5 344.9 343.1 346.2 345.0 347.5C346.9 348.8 347.1 351.2 347.5 352.0L347.5 466.0C346.9 466.8 345.9 469.0 344.0 470.5C342.1 472.0 338.6 473.7 336.0 475.0C333.4 476.3 329.8 477.9 328.5 478.5C328.2 480.8 327.8 487.6 327.0 492.0C326.2 496.4 325.5 501.2 324.0 505.0C322.5 508.8 320.7 512.2 318.0 514.5C315.3 516.8 312.7 518.2 308.0 519.0C303.3 519.8 296.3 519.5 290.0 519.5C283.7 519.5 276.3 519.3 270.0 519.0C263.7 518.7 256.3 518.3 252.0 517.5C247.7 516.7 246.5 515.6 244.0 514.0C241.5 512.4 238.7 510.7 237.0 508.0C235.3 505.3 234.5 499.3 234.0 497.6C231.8 497.5 224.0 497.3 221.0 496.8C218.0 496.3 217.2 495.6 216.0 494.5C214.8 493.4 214.3 490.8 214.0 490.0L214.0 374.0Z" fill="none" stroke="#0c0c0c" stroke-width="1.0" stroke-linejoin="round" stroke-linecap="round" />
<path d="M436.0 414.0C436.1 413.5 436.0 412.0 436.5 411.0C437.0 410.0 437.4 408.8 439.0 408.0C440.6 407.2 444.8 406.3 446.0 406.0C446.2 405.6 446.0 404.2 447.0 403.5C448.0 402.8 449.5 401.8 452.0 402.0C454.5 402.2 457.0 403.7 462.0 405.0C467.0 406.3 477.7 409.3 482.0 410.0C486.3 410.7 487.0 409.2 488.0 409.0C488.5 407.5 490.0 403.5 491.0 400.0C492.0 396.5 493.5 390.0 494.0 388.0C496.7 387.2 505.3 384.2 510.0 383.0C514.7 381.8 517.0 381.2 522.0 381.0C527.0 380.8 534.0 381.5 540.0 382.0C546.0 382.5 553.5 383.1 558.0 384.0C562.5 384.9 565.1 386.2 567.0 387.5C568.9 388.8 569.1 391.2 569.5 392.0L569.5 506.0C568.9 506.8 567.9 509.0 566.0 510.5C564.1 512.0 560.6 513.7 558.0 515.0C555.4 516.3 551.8 517.9 550.5 518.5C550.2 520.8 549.8 527.6 549.0 532.0C548.2 536.4 547.5 541.2 546.0 545.0C544.5 548.8 542.7 552.2 540.0 554.5C537.3 556.8 534.7 558.2 530.0 559.0C525.3 559.8 518.3 559.5 512.0 559.5C505.7 559.5 498.3 559.3 492.0 559.0C485.7 558.7 478.3 558.3 474.0 557.5C469.7 556.7 468.5 555.6 466.0 554.0C463.5 552.4 460.7 550.7 459.0 548.0C457.3 545.3 456.5 539.3 456.0 537.6C453.8 537.5 446.0 537.3 443.0 536.8C440.0 536.3 439.2 535.6 438.0 534.5C436.8 533.4 436.3 530.8 436.0 530.0L436.0 414.0Z" fill="#343436" stroke="#0c0c0c" stroke-width="1.0" stroke-linejoin="round" stroke-linecap="round" />
<path d="M456.0 537.6C456.5 539.3 457.3 545.3 459.0 548.0C460.7 550.7 463.5 552.4 466.0 554.0C468.5 555.6 469.7 556.7 474.0 557.5C478.3 558.3 485.7 558.7 492.0 559.0C498.3 559.3 507.3 560.0 512.0 559.5C516.7 559.0 518.7 556.6 520.0 556.0C518.7 554.7 514.0 551.1 512.0 548.0C510.0 544.9 508.7 539.3 508.0 537.6L456.0 537.6Z" fill="#2d2d2f" stroke="#0c0c0c" stroke-width="0.8" stroke-linejoin="round" stroke-linecap="round" />
<path d="M494.0 388.0C493.5 390.0 492.0 396.5 491.0 400.0C490.0 403.5 488.5 407.5 488.0 409.0C489.7 409.5 494.5 411.2 498.0 412.0C501.5 412.8 507.2 413.7 509.0 414.0C509.8 416.3 511.2 424.0 514.0 428.0C516.8 432.0 522.0 436.2 526.0 438.0C530.0 439.8 534.0 440.7 538.0 439.0C542.0 437.3 546.7 432.8 550.0 428.0C553.3 423.2 556.0 415.7 558.0 410.0C560.0 404.3 561.3 396.7 562.0 394.0L560.0 393.5L550.0 390.0L533.0 396.0L533.0 400.0L515.0 397.0L515.0 389.0L494.0 388.0Z" fill="url(#gRSad)" stroke="#0c0c0c" stroke-width="0.8" stroke-linejoin="round" stroke-linecap="round" />
<path d="M562.0 394.0L569.5 392.0L569.5 506.0C568.9 506.8 567.9 509.0 566.0 510.5C564.1 512.0 560.6 513.7 558.0 515.0C555.4 516.3 551.8 517.9 550.5 518.5C550.7 515.4 551.0 510.6 551.5 500.0C552.0 489.4 552.4 469.7 553.5 455.0C554.6 440.3 556.6 422.2 558.0 412.0C559.4 401.8 561.3 397.0 562.0 394.0Z" fill="#39393b" stroke="#0c0c0c" stroke-width="0.8" stroke-linejoin="round" stroke-linecap="round" />
<path d="M494.0 387.5C496.7 386.8 505.3 384.1 510.0 383.0C514.7 381.9 517.0 381.2 522.0 381.0C527.0 380.8 534.0 381.5 540.0 382.0C546.0 382.5 553.5 383.1 558.0 384.0C562.5 384.9 565.1 386.2 567.0 387.5C568.9 388.8 569.1 391.2 569.5 392.0L562.0 394.0L550.0 390.0L533.0 396.0L533.0 400.0L515.0 397.0L515.0 389.0C513.2 388.9 507.5 388.8 504.0 388.5C500.5 388.2 495.7 387.7 494.0 387.5Z" fill="#4a4a4c" stroke="#0c0c0c" stroke-width="0.8" stroke-linejoin="round" stroke-linecap="round" />
<path d="M515.0 389.0C515.5 388.6 516.8 387.2 518.0 386.5C519.2 385.8 519.3 385.2 522.0 385.0C524.7 384.8 530.0 384.8 534.0 385.0C538.0 385.2 543.3 385.2 546.0 386.0C548.7 386.8 549.3 389.3 550.0 390.0L533.0 396.0L533.0 400.0L515.0 397.0L515.0 389.0Z" fill="#39393b" stroke="#0c0c0c" stroke-width="0.8" stroke-linejoin="round" stroke-linecap="round" />
<path d="M515.0 391.5L533.0 394.5L533.0 400.0L515.0 397.0L515.0 391.5Z" fill="#262628" stroke="#0c0c0c" stroke-width="0.6" stroke-linejoin="round" stroke-linecap="round" />
<path d="M509.0 414.0C509.8 416.3 511.2 424.0 514.0 428.0C516.8 432.0 522.0 436.2 526.0 438.0C530.0 439.8 534.0 440.7 538.0 439.0C542.0 437.3 546.7 432.8 550.0 428.0C553.3 423.2 556.0 415.7 558.0 410.0C560.0 404.3 561.3 396.7 562.0 394.0C561.3 397.0 559.4 401.8 558.0 412.0C556.6 422.2 554.6 440.3 553.5 455.0C552.4 469.7 552.1 488.5 551.5 500.0C550.9 511.5 550.8 517.0 550.0 524.0C549.2 531.0 548.8 537.0 547.0 542.0C545.2 547.0 542.3 551.3 539.5 554.0C536.7 556.7 533.4 558.5 530.0 558.0C526.6 557.5 522.2 554.7 519.0 551.0C515.8 547.3 512.8 542.0 511.0 536.0C509.2 530.0 509.0 524.3 508.0 515.0C507.0 505.7 505.6 489.2 505.0 480.0C504.4 470.8 504.4 467.5 504.5 460.0C504.6 452.5 504.8 442.7 505.5 435.0C506.2 427.3 508.4 417.5 509.0 414.0Z" fill="#3a3a3c" stroke="#0c0c0c" stroke-width="0.8" stroke-linejoin="round" stroke-linecap="round" />
<path d="M511.5 426.0C512.2 427.1 513.6 430.2 516.0 432.5C518.4 434.8 522.3 438.2 526.0 439.5C529.7 440.8 533.9 441.7 538.0 440.0C542.1 438.3 547.1 434.3 550.5 429.5C553.9 424.7 556.7 416.2 558.5 411.0C560.3 405.8 561.0 400.2 561.5 398.0" fill="none" stroke="#a8a8aa" stroke-width="3.6" stroke-linejoin="round" stroke-linecap="round" stroke-dasharray="0.7 1.7" opacity="0.6" style="stroke-linecap:butt"/>
<path d="M509.0 436.0C510.5 437.8 514.5 444.3 518.0 447.0C521.5 449.7 526.0 451.8 530.0 452.0C534.0 452.2 538.3 450.7 542.0 448.0C545.7 445.3 550.3 438.0 552.0 436.0" fill="none" stroke="#0c0c0c" stroke-width="0.7" stroke-linejoin="round" stroke-linecap="round" />
<path d="M508.0 449.0C508.6 458.8 510.8 493.5 511.8 507.5C512.8 521.5 512.6 526.2 514.0 533.0C515.4 539.8 517.2 544.5 520.0 548.0C522.8 551.5 527.2 554.0 530.5 554.0C533.8 554.0 537.0 551.5 539.5 548.0C542.0 544.5 544.0 539.8 545.5 533.0C547.0 526.2 547.4 520.5 548.5 507.5C549.6 494.5 551.4 463.8 552.0 455.0" fill="none" stroke="#0c0c0c" stroke-width="0.7" stroke-linejoin="round" stroke-linecap="round" />
<path d="M512.5 454.0C513.9 454.8 518.0 457.5 521.0 458.5C524.0 459.5 527.3 460.0 530.5 460.0C533.7 460.0 536.9 459.5 540.0 458.5C543.1 457.5 547.5 454.8 549.0 454.0C548.5 462.9 547.0 494.3 546.0 507.5C545.0 520.7 544.2 526.8 543.0 533.0C541.8 539.2 540.8 542.2 538.8 545.0C536.8 547.8 533.6 550.0 531.0 550.0C528.4 550.0 525.3 547.8 523.0 545.0C520.7 542.2 518.4 539.2 517.0 533.0C515.6 526.8 515.5 520.7 514.8 507.5C514.0 494.3 512.9 462.9 512.5 454.0Z" fill="url(#gRTongue)" stroke="#0c0c0c" stroke-width="0.8" stroke-linejoin="round" stroke-linecap="round" />
<g transform="translate(222,40)"><path d="M311.2 432.4 L304.2 444 L311.6 448.6 L303.8 459.6 L311.2 464 L303.8 473.6 L311.2 482 M311.2 476.6 L303.9 486 L303.9 476.5" fill="none" stroke="#141414" stroke-width="4.8" stroke-linejoin="miter" stroke-linecap="square"/><path d="M311.2 432.4 L304.2 444 L311.6 448.6 L303.8 459.6 L311.2 464 L303.8 473.6 L311.2 482 M311.2 476.6 L303.9 486 L303.9 476.5" fill="none" stroke="#cbcbcb" stroke-width="2.8" stroke-linejoin="miter" stroke-linecap="butt"/></g>
<path d="M436.0 414.0C436.1 413.5 436.0 412.0 436.5 411.0C437.0 410.0 437.4 408.8 439.0 408.0C440.6 407.2 444.8 406.3 446.0 406.0C446.2 405.6 446.0 404.2 447.0 403.5C448.0 402.8 449.5 401.8 452.0 402.0C454.5 402.2 457.0 403.7 462.0 405.0C467.0 406.3 477.7 409.3 482.0 410.0C486.3 410.7 487.0 409.2 488.0 409.0C489.7 409.5 494.5 411.2 498.0 412.0C501.5 412.8 507.2 413.7 509.0 414.0C507.2 414.3 501.5 415.1 498.0 415.8C494.5 416.6 492.3 417.9 488.0 418.5C483.7 419.1 479.3 419.8 472.0 419.5C464.7 419.2 450.0 417.4 444.0 416.5C438.0 415.6 437.3 414.4 436.0 414.0Z" fill="#555557" stroke="#0c0c0c" stroke-width="0.8" stroke-linejoin="round" stroke-linecap="round" />
<path d="M455.0 410.0C455.5 409.6 456.2 408.1 458.0 407.8C459.8 407.5 463.3 407.7 466.0 408.2C468.7 408.7 473.0 410.0 474.0 411.0C475.0 412.0 474.0 413.6 472.0 414.0C470.0 414.4 464.8 414.2 462.0 413.5C459.2 412.8 456.2 410.6 455.0 410.0Z" fill="#2a2a2c" stroke="#0c0c0c" stroke-width="0.7" stroke-linejoin="round" stroke-linecap="round" />
<path d="M436.0 414.0C437.3 414.4 438.0 415.6 444.0 416.5C450.0 417.4 464.7 419.2 472.0 419.5C479.3 419.8 483.7 419.1 488.0 418.5C492.3 417.9 494.5 416.6 498.0 415.8C501.5 415.1 507.2 414.3 509.0 414.0C508.4 417.5 506.2 427.3 505.5 435.0C504.8 442.7 504.6 452.5 504.5 460.0C504.4 467.5 504.4 470.8 505.0 480.0C505.6 489.2 507.4 505.7 508.0 515.0C508.6 524.3 508.4 532.5 508.5 536.0L507.0 537.6L456.0 537.6C453.8 537.5 446.0 537.3 443.0 536.8C440.0 536.3 439.2 535.6 438.0 534.5C436.8 533.4 436.3 530.8 436.0 530.0L436.0 414.0Z" fill="url(#gRF)" stroke="#0c0c0c" stroke-width="0.9" stroke-linejoin="round" stroke-linecap="round" />
<path d="M436.0 414.0C436.1 413.5 436.0 412.0 436.5 411.0C437.0 410.0 437.4 408.8 439.0 408.0C440.6 407.2 444.8 406.3 446.0 406.0C446.2 405.6 446.0 404.2 447.0 403.5C448.0 402.8 449.5 401.8 452.0 402.0C454.5 402.2 457.0 403.7 462.0 405.0C467.0 406.3 477.7 409.3 482.0 410.0C486.3 410.7 487.0 409.2 488.0 409.0C488.5 407.5 490.0 403.5 491.0 400.0C492.0 396.5 493.5 390.0 494.0 388.0C496.7 387.2 505.3 384.2 510.0 383.0C514.7 381.8 517.0 381.2 522.0 381.0C527.0 380.8 534.0 381.5 540.0 382.0C546.0 382.5 553.5 383.1 558.0 384.0C562.5 384.9 565.1 386.2 567.0 387.5C568.9 388.8 569.1 391.2 569.5 392.0L569.5 506.0C568.9 506.8 567.9 509.0 566.0 510.5C564.1 512.0 560.6 513.7 558.0 515.0C555.4 516.3 551.8 517.9 550.5 518.5C550.2 520.8 549.8 527.6 549.0 532.0C548.2 536.4 547.5 541.2 546.0 545.0C544.5 548.8 542.7 552.2 540.0 554.5C537.3 556.8 534.7 558.2 530.0 559.0C525.3 559.8 518.3 559.5 512.0 559.5C505.7 559.5 498.3 559.3 492.0 559.0C485.7 558.7 478.3 558.3 474.0 557.5C469.7 556.7 468.5 555.6 466.0 554.0C463.5 552.4 460.7 550.7 459.0 548.0C457.3 545.3 456.5 539.3 456.0 537.6C453.8 537.5 446.0 537.3 443.0 536.8C440.0 536.3 439.2 535.6 438.0 534.5C436.8 533.4 436.3 530.8 436.0 530.0L436.0 414.0Z" fill="none" stroke="#0c0c0c" stroke-width="1.0" stroke-linejoin="round" stroke-linecap="round" />
<line x1="250.5" y1="357" x2="250.5" y2="372.5" stroke="#16167e" stroke-width="1.8"/>
<line x1="309.8" y1="337.5" x2="309.8" y2="357" stroke="#16167e" stroke-width="1.8"/>
<line x1="249.5" y1="499" x2="249.5" y2="569.5" stroke="#16167e" stroke-width="1.8" stroke-dasharray="5.8 2.8"/>
<line x1="309.7" y1="519.5" x2="309.7" y2="547.5" stroke="#16167e" stroke-width="1.8"/>
<line x1="472.5" y1="397" x2="472.5" y2="412.5" stroke="#16167e" stroke-width="1.8"/>
<line x1="531.8" y1="377.5" x2="531.8" y2="397" stroke="#16167e" stroke-width="1.8"/>
<line x1="471.5" y1="539" x2="471.5" y2="608.0" stroke="#16167e" stroke-width="1.8" stroke-dasharray="5.8 2.8"/>
<line x1="531.7" y1="559.5" x2="531.7" y2="586.0" stroke="#16167e" stroke-width="1.8"/>
<line x1="305.5" y1="88" x2="252" y2="172" stroke="#111" stroke-width="1.1"/>
<circle cx="252" cy="172" r="2.1" fill="#000"/>
<line x1="318" y1="91" x2="313" y2="146.4" stroke="#111" stroke-width="1.1"/>
<circle cx="313" cy="146.4" r="2.1" fill="#000"/>
<line x1="339.5" y1="84" x2="471" y2="208" stroke="#111" stroke-width="1.1"/>
<circle cx="471" cy="208" r="2.1" fill="#000"/>
<line x1="344" y1="79" x2="537.6" y2="185.6" stroke="#111" stroke-width="1.1"/>
<circle cx="537.6" cy="185.6" r="2.1" fill="#000"/>
<line x1="368" y1="234" x2="256.6" y2="233.3" stroke="#111" stroke-width="1.1"/>
<circle cx="256.6" cy="233.3" r="2.1" fill="#000"/>
<line x1="415.7" y1="248" x2="454.6" y2="271.5" stroke="#111" stroke-width="1.1"/>
<circle cx="454.6" cy="271.5" r="2.1" fill="#000"/>
<line x1="351.9" y1="502.9" x2="257" y2="445.6" stroke="#111" stroke-width="1.1"/>
<circle cx="257" cy="445.6" r="2.1" fill="#000"/>
<line x1="397.4" y1="508" x2="452.5" y2="488" stroke="#111" stroke-width="1.1"/>
<circle cx="452.5" cy="488" r="2.1" fill="#000"/>
<circle cx="320" cy="65" r="26" fill="#fff" stroke="#111" stroke-width="1.1"/>
<text x="320.9" y="75.3" font-size="25" text-anchor="middle" fill="#333">3</text>
<circle cx="393.5" cy="234.3" r="25.5" fill="#fff" stroke="#111" stroke-width="1.1"/>
<text x="394.0" y="243.60000000000002" font-size="25" text-anchor="middle" fill="#333">2</text>
<circle cx="374" cy="516.2" r="25.5" fill="#fff" stroke="#111" stroke-width="1.1"/>
<text x="372.9" y="525.9" font-size="25" text-anchor="middle" fill="#333">1</text>
<text x="355.3" y="74.6" font-size="24" font-weight="bold" fill="#111" textLength="69" lengthAdjust="spacingAndGlyphs">23Nm</text>
</svg>
</body></html>
